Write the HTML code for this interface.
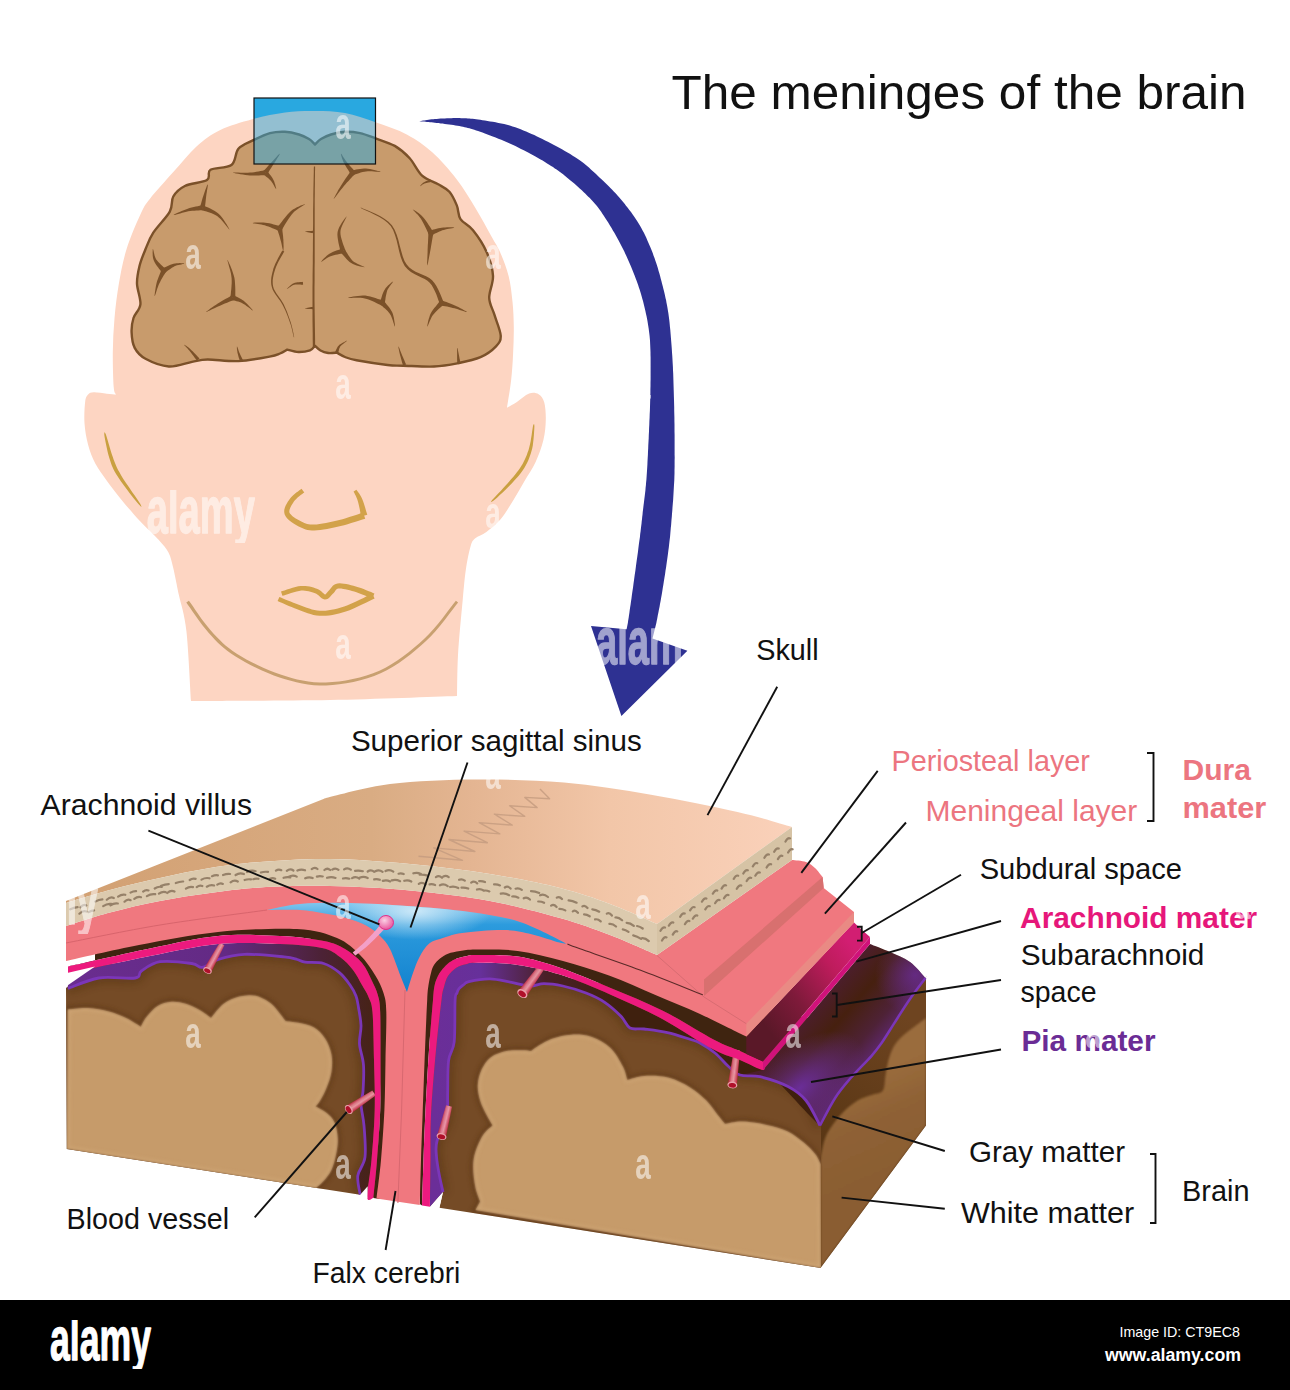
<!DOCTYPE html>
<html><head><meta charset="utf-8"><title>The meninges of the brain</title>
<style>
html,body{margin:0;padding:0;background:#fff;}
body{width:1290px;height:1390px;overflow:hidden;}
svg{display:block;}
text{font-family:"Liberation Sans",sans-serif;}
</style></head>
<body>
<svg width="1290" height="1390" viewBox="0 0 1290 1390">
<defs>
<linearGradient id="gSkullTop" x1="66" y1="0" x2="792" y2="0" gradientUnits="userSpaceOnUse">
 <stop offset="0" stop-color="#D2A072"/><stop offset="0.42" stop-color="#D9AC83"/><stop offset="0.56" stop-color="#E4B592"/><stop offset="0.75" stop-color="#F2C6A8"/><stop offset="1" stop-color="#FAD1BA"/></linearGradient>
<linearGradient id="gLSub" x1="66" y1="0" x2="385" y2="0" gradientUnits="userSpaceOnUse">
 <stop offset="0" stop-color="#6A2D90"/><stop offset="0.5" stop-color="#632A84"/><stop offset="0.8" stop-color="#4C2236"/><stop offset="1" stop-color="#45230F"/></linearGradient>
<linearGradient id="gRSub" x1="434" y1="0" x2="620" y2="0" gradientUnits="userSpaceOnUse">
 <stop offset="0" stop-color="#6B2E98"/><stop offset="0.25" stop-color="#66309A"/><stop offset="0.6" stop-color="#4A2027"/><stop offset="1" stop-color="#3F200E"/></linearGradient>
<linearGradient id="gPiaEnd" x1="816" y1="1005" x2="886" y2="1066" gradientUnits="userSpaceOnUse">
 <stop offset="0" stop-color="#4C1E2C"/><stop offset="0.3" stop-color="#46200F"/><stop offset="0.62" stop-color="#4E2236"/><stop offset="1" stop-color="#6A2C95"/></linearGradient>
<radialGradient id="gPiaGlow" cx="800" cy="1088" r="50" gradientUnits="userSpaceOnUse" gradientTransform="translate(800 1088) rotate(-40) scale(1.5 0.8) translate(-800 -1088)">
 <stop offset="0" stop-color="#6C2E9E" stop-opacity="0.95"/><stop offset="1" stop-color="#6C2E9E" stop-opacity="0"/></radialGradient>
<radialGradient id="gPiaGlow2" cx="915" cy="975" r="40" gradientUnits="userSpaceOnUse">
 <stop offset="0" stop-color="#6A2C95" stop-opacity="0.8"/><stop offset="1" stop-color="#6A2C95" stop-opacity="0"/></radialGradient>
<linearGradient id="gArTop" x1="768" y1="1030" x2="862" y2="958" gradientUnits="userSpaceOnUse">
 <stop offset="0" stop-color="#5A1828"/><stop offset="0.35" stop-color="#7E1A3A"/><stop offset="0.75" stop-color="#BE1C5C"/><stop offset="1" stop-color="#D21E72"/></linearGradient>
<linearGradient id="gSide" x1="830" y1="1140" x2="910" y2="1020" gradientUnits="userSpaceOnUse">
 <stop offset="0" stop-color="#5A3715"/><stop offset="1" stop-color="#6E4420"/></linearGradient>
<linearGradient id="gSideWM" x1="860" y1="1080" x2="900" y2="1170" gradientUnits="userSpaceOnUse">
 <stop offset="0" stop-color="#9A6C3C"/><stop offset="0.4" stop-color="#8F6236"/><stop offset="1" stop-color="#8A5D31"/></linearGradient>
<linearGradient id="gSinus" x1="0" y1="903" x2="0" y2="990" gradientUnits="userSpaceOnUse">
 <stop offset="0" stop-color="#7FC6EE"/><stop offset="0.25" stop-color="#2C9BDD"/><stop offset="1" stop-color="#1483CF"/></linearGradient>
<radialGradient id="gSinusHi" cx="415" cy="911" r="48" gradientUnits="userSpaceOnUse" gradientTransform="translate(415 911) scale(1.6 0.6) translate(-415 -911)">
 <stop offset="0" stop-color="#D8EEFA" stop-opacity="0.9"/><stop offset="1" stop-color="#D8EEFA" stop-opacity="0"/></radialGradient>
<linearGradient id="gVes" x1="0" y1="0" x2="0" y2="1">
 <stop offset="0" stop-color="#C0203C"/><stop offset="0.45" stop-color="#EE9AA6"/><stop offset="0.7" stop-color="#E07888"/><stop offset="1" stop-color="#B8203A"/></linearGradient>
<radialGradient id="gVillus" cx="0.4" cy="0.35" r="0.7">
 <stop offset="0" stop-color="#FBD0E4"/><stop offset="1" stop-color="#E8509A"/></radialGradient>
<filter id="fBlur1" x="-10%" y="-10%" width="120%" height="120%"><feGaussianBlur stdDeviation="1.2"/></filter>
<filter id="fBlur2" x="-10%" y="-10%" width="120%" height="120%"><feGaussianBlur stdDeviation="2"/></filter>
<filter id="fBlur4" x="-10%" y="-10%" width="120%" height="120%"><feGaussianBlur stdDeviation="4"/></filter>
<clipPath id="cpLogo"><rect x="-3" y="-40" width="108" height="49"/></clipPath></defs>
<rect width="1290" height="1390" fill="#fff"/>
<g><path d="M191,701 C190.2,689.3 188.4,648.6 186.4,631 C184.4,613.4 180.8,604.1 179,595.6 C177.2,587.1 176.8,584.8 175.8,580 C174.8,575.2 174.2,571.5 173,567 C171.8,562.5 171,557.2 168.6,552.7 C166.2,548.2 163.4,545 158.6,539.7 C153.8,534.4 146.1,527.7 139.9,521 C133.7,514.3 126.7,506.1 121.2,499.4 C115.7,492.7 111.1,486.7 106.8,480.7 C102.5,474.7 98.4,469.5 95.3,463.5 C92.2,457.5 89.9,451.4 88.1,444.7 C86.3,438 85,430.4 84.5,423.2 C84,416 84.6,406.4 85.2,401.6 C85.8,396.8 86.7,396 88.1,394.4 C89.5,392.8 90.7,392.3 93.8,392.2 C96.9,392.1 103.1,393.3 106.8,393.7 C110.5,394.1 114.5,394.5 116.1,394.6 C115.7,393.3 114.2,394 113.7,387 C113.2,380 112.7,364.2 112.8,352.7 C112.9,341.2 113.5,329.7 114.5,318.2 C115.5,306.7 116.9,295.1 118.9,283.6 C120.9,272.1 123,260.5 126.6,249 C130.2,237.5 136.5,222.9 140.4,214.5 C144.3,206.1 144.5,205.9 150,198.8 C155.5,191.7 165.6,180.8 173.3,172.1 C181.1,163.4 188.8,153.5 196.5,146.5 C204.2,139.5 210.5,134.8 219.8,130.2 C229.1,125.6 241.4,122.2 252.3,119.2 C263.2,116.2 274.6,113.9 285,112.5 C295.4,111.1 305,110.9 315,111 C325,111.1 334.9,111.1 345,113 C355.1,114.9 365.2,118.7 375.6,122.3 C386,125.9 397.8,129.7 407.2,134.7 C416.6,139.7 423.7,144.6 432,152.1 C440.3,159.6 449.6,170.1 456.8,179.4 C464,188.7 469.6,198.4 475.4,207.9 C481.2,217.4 487.4,229.1 491.5,236.4 C495.6,243.8 497.1,245.4 500,252 C502.9,258.6 506.5,267.6 508.6,275.9 C510.7,284.2 511.6,293.2 512.5,301.8 C513.4,310.4 513.7,319.1 513.8,327.7 C513.9,336.3 513.5,345 513.1,353.6 C512.7,362.2 512.2,370.4 511.2,379.4 C510.2,388.4 507.7,403 507,407.7 C508.6,406.8 512.8,404.6 516.5,402.2 C520.2,399.8 525.4,394.8 529.1,393.5 C532.8,392.2 536.1,392.8 538.6,394.2 C541.1,395.6 543,398 544.2,402.2 C545.4,406.4 545.9,413.3 545.8,419.6 C545.7,425.9 545.1,433 543.4,440.1 C541.7,447.2 538.7,455.4 535.5,462.3 C532.3,469.2 528.1,475 524.4,481.3 C520.7,487.6 517.3,494 513.3,500.3 C509.3,506.6 505.1,514 500.6,519.3 C496.1,524.6 490.6,528.8 486.4,532 C482.2,535.2 477.9,535.9 475.3,538.3 C472.7,540.7 472.2,540.9 470.6,546.2 C469,551.5 467.1,561 465.8,570 C464.5,579 464,585.8 462.7,600 C461.4,614.2 458.9,639 458,655 C457.1,671 457.2,689.2 457,696 C435.8,696.7 374.3,699.2 330,700 C285.7,700.8 214.2,700.8 191,701 Z" fill="#FDD5C2"/>
<path d="M104.3,432.6 L104.3,434.7 L104.7,437.4 L105.3,440.7 L106,444.3 L106.8,448 L107.6,451.7 L108.5,455.2 L109.4,458.3 L110.3,460.9 L111,463.2 L111.8,465.4 L112.7,467.5 L113.7,469.7 L114.9,472 L116.4,474.5 L118.2,477.3 L120.5,480.8 L123.4,484.8 L126.6,489.1 L129.9,493.5 L133.2,497.7 L136.3,501.5 L138.9,504.6 L141.1,506.8 L141.5,506.4 L140.2,503.7 L137.9,500.3 L135.2,496.3 L132.1,491.9 L129,487.3 L126,482.9 L123.3,478.9 L121.2,475.5 L119.6,472.6 L118.2,470.2 L117.1,468 L116.2,466 L115.4,464 L114.6,461.9 L113.7,459.7 L112.8,457.1 L111.8,454.2 L110.7,450.8 L109.7,447.3 L108.6,443.6 L107.6,440.1 L106.7,436.9 L105.8,434.3 L104.9,432.4Z" fill="#C9A040"/><path d="M533.6,424.3 L533,426.1 L532.6,428.6 L532.1,431.6 L531.7,434.8 L531.1,438.3 L530.6,441.6 L529.9,444.8 L529.2,447.6 L528.5,450.2 L527.6,452.6 L526.8,454.9 L525.8,457.2 L524.8,459.5 L523.7,461.7 L522.6,463.9 L521.3,466.1 L519.9,468.3 L518.3,470.4 L516.7,472.6 L515,474.7 L513.2,476.9 L511.3,479.1 L509.4,481.3 L507.5,483.5 L505.4,485.8 L503.1,488.3 L500.7,490.9 L498.2,493.5 L495.9,495.9 L493.8,498.2 L492.1,500.1 L491,501.7 L491.4,502.1 L493,501 L495,499.4 L497.3,497.4 L499.8,495.1 L502.4,492.7 L505,490.2 L507.5,487.8 L509.7,485.5 L511.7,483.4 L513.7,481.3 L515.7,479.1 L517.6,477 L519.5,474.8 L521.2,472.5 L522.8,470.3 L524.3,467.9 L525.7,465.6 L526.9,463.3 L528,460.9 L529,458.5 L529.9,456.1 L530.8,453.6 L531.5,451.1 L532.2,448.4 L532.8,445.4 L533.2,442.1 L533.6,438.6 L533.9,435.1 L534.1,431.8 L534.3,428.8 L534.4,426.2 L534.2,424.3Z" fill="#C9A040"/><path d="M186.3,602.5 L188,604.9 L190.2,608.1 L192.9,612 L195.9,616.3 L199.1,620.7 L202.4,625.2 L205.7,629.3 L208.8,633 L211.8,636.3 L214.7,639.4 L217.6,642.4 L220.6,645.2 L223.8,648 L227.2,650.8 L231,653.5 L235.2,656.3 L239.8,659.1 L244.9,662 L250.4,665 L256.1,667.8 L261.9,670.6 L267.9,673.1 L273.8,675.4 L279.5,677.4 L285.2,679.2 L290.8,680.8 L296.4,682.3 L302.1,683.5 L307.9,684.5 L313.8,685.2 L319.8,685.5 L326.1,685.5 L332.6,685.1 L339.3,684.3 L346.3,683.3 L353.4,681.9 L360.4,680.3 L367.4,678.3 L374.1,676 L380.6,673.3 L386.8,670.3 L392.9,666.8 L398.9,662.9 L404.7,658.8 L410.4,654.5 L415.8,650 L421,645.5 L426,641 L430.9,636.2 L435.7,630.9 L440.5,625.3 L444.9,619.7 L449,614.3 L452.7,609.5 L455.7,605.5 L458.1,602.5 L455.9,600.7 L453.5,603.7 L450.4,607.8 L446.8,612.6 L442.7,617.9 L438.3,623.5 L433.6,629 L428.8,634.3 L424,639 L419.1,643.4 L414,647.8 L408.6,652.2 L403,656.5 L397.3,660.5 L391.4,664.3 L385.5,667.7 L379.4,670.7 L373.1,673.2 L366.5,675.5 L359.7,677.4 L352.8,679.1 L345.8,680.4 L339,681.4 L332.3,682.1 L325.9,682.5 L319.9,682.6 L314,682.2 L308.3,681.6 L302.7,680.6 L297.1,679.4 L291.6,677.9 L286,676.3 L280.5,674.6 L274.8,672.6 L269,670.3 L263.2,667.8 L257.4,665.1 L251.8,662.2 L246.4,659.4 L241.4,656.5 L236.8,653.7 L232.7,651 L229.1,648.3 L225.8,645.7 L222.7,642.9 L219.8,640.1 L217,637.2 L214.1,634.2 L211.2,631 L208.1,627.3 L204.9,623.2 L201.6,618.9 L198.5,614.4 L195.5,610.2 L192.9,606.3 L190.6,603.1 L188.9,600.7Z" fill="#C8A070"/><path d="M301.5,488.8 L300.6,489.5 L299.4,490.3 L298,491.4 L296.3,492.6 L294.6,494 L292.9,495.4 L291.4,497 L290.1,498.6 L288.9,500.2 L287.8,501.8 L286.7,503.7 L285.7,505.6 L284.9,507.6 L284.3,509.7 L284.2,512 L284.6,514.2 L285.6,516.3 L287,518.2 L288.8,519.9 L290.7,521.5 L292.8,522.9 L294.8,524.2 L296.9,525.4 L298.7,526.4 L300.4,527.3 L302.1,528.1 L303.8,528.8 L305.6,529.4 L307.5,529.9 L309.6,530.2 L311.9,530.4 L314.4,530.4 L317.2,530.3 L320.3,529.9 L323.6,529.5 L327.1,528.9 L330.6,528.2 L334.1,527.5 L337.5,526.7 L340.7,526 L344.1,525.2 L347.6,524.2 L351.2,523.1 L354.7,522 L358,521 L360.9,520 L363.3,519.3 L365.2,518.7 L363.2,512.5 L361.3,513.1 L358.9,513.9 L356,514.9 L352.7,516 L349.3,517.1 L345.8,518.2 L342.5,519.2 L339.3,520 L336.1,520.8 L332.8,521.5 L329.4,522.3 L326,523 L322.7,523.6 L319.6,524.1 L316.7,524.4 L314.2,524.6 L312.1,524.6 L310.2,524.5 L308.6,524.3 L307.1,524 L305.7,523.5 L304.3,523 L302.9,522.3 L301.3,521.6 L299.5,520.6 L297.6,519.6 L295.7,518.4 L293.9,517.2 L292.2,515.9 L290.9,514.6 L289.9,513.5 L289.4,512.6 L289.3,511.7 L289.4,510.6 L289.7,509.2 L290.3,507.7 L291.1,506 L292,504.4 L293,502.9 L293.9,501.4 L294.9,500.2 L296.2,498.9 L297.6,497.6 L299.2,496.3 L300.7,495.1 L302.2,494 L303.4,493.1 L304.3,492.4Z" fill="#D2A24A"/><path d="M353.6,491.4 L353.9,492.2 L354.4,493.1 L354.9,494.2 L355.5,495.3 L356.1,496.6 L356.7,498 L357.3,499.4 L357.7,500.8 L358.2,502.5 L358.7,504.5 L359.2,506.8 L359.7,509.1 L360.1,511.3 L360.5,513.4 L360.8,515.1 L361.1,516.4 L367.3,514.8 L366.9,513.6 L366.4,511.9 L365.8,509.9 L365.2,507.7 L364.5,505.4 L363.7,503.1 L363,501 L362.3,499.2 L361.5,497.5 L360.7,496 L359.8,494.6 L359,493.3 L358.2,492.2 L357.5,491.2 L356.9,490.4 L356.4,489.8Z" fill="#D2A24A"/><path d="M282.4,595.8 L283.9,595.4 L286,594.7 L288.4,593.9 L291.1,593 L293.9,592.2 L296.6,591.4 L299.1,590.9 L301.2,590.6 L303.1,590.6 L305,590.7 L306.8,590.9 L308.6,591.2 L310.4,591.7 L312.1,592.2 L313.7,592.7 L315.1,593.2 L316.3,593.8 L317.3,594.5 L318.4,595.3 L319.5,596.3 L320.5,597.3 L321.7,598.2 L323.1,599 L324.8,599.5 L326.5,599.3 L328,598.7 L329.1,597.8 L330,596.9 L330.7,596 L331.4,595.2 L332.1,594.5 L332.8,593.8 L333.7,592.9 L334.5,591.9 L335.2,590.9 L335.8,590.1 L336.4,589.5 L336.9,589.1 L337.5,588.8 L338.4,588.6 L339.6,588.5 L341.3,588.6 L343.2,588.9 L345.3,589.3 L347.5,589.8 L349.8,590.3 L352,590.9 L354.2,591.6 L356.5,592.3 L359,593.2 L361.6,594.2 L364.3,595.2 L366.8,596.2 L369,597.2 L370.9,598 L372.4,598.6 L374.4,593.4 L373,592.9 L371.1,592.1 L368.8,591.2 L366.3,590.2 L363.6,589.1 L360.9,588.1 L358.2,587.2 L355.8,586.4 L353.4,585.8 L351.1,585.2 L348.7,584.6 L346.3,584.1 L344,583.7 L341.8,583.4 L339.7,583.3 L337.6,583.4 L335.8,583.9 L334.1,584.7 L332.8,585.8 L331.8,586.9 L331,587.9 L330.4,588.8 L329.8,589.6 L329.2,590.2 L328.4,591 L327.6,592 L326.9,592.8 L326.3,593.6 L325.8,594.1 L325.4,594.4 L325.2,594.5 L325.2,594.5 L325,594.5 L324.5,594.2 L323.7,593.5 L322.7,592.7 L321.5,591.6 L320.2,590.6 L318.6,589.6 L316.9,588.8 L315.2,588.2 L313.5,587.6 L311.6,587.1 L309.6,586.6 L307.6,586.3 L305.4,586 L303.1,585.9 L300.8,586 L298.2,586.3 L295.5,587 L292.6,587.8 L289.7,588.7 L287,589.6 L284.5,590.4 L282.5,591.1 L281,591.6Z" fill="#D2A24A"/><path d="M277.6,601.1 L279.1,601.7 L281,602.6 L283.4,603.6 L286,604.7 L288.8,605.9 L291.6,607.1 L294.5,608.2 L297.2,609.2 L299.7,610.2 L302.3,611.2 L305,612.2 L307.7,613.2 L310.5,614.1 L313.4,614.9 L316.5,615.5 L319.6,615.8 L322.7,615.8 L325.9,615.7 L329.1,615.4 L332.4,614.9 L335.7,614.2 L339,613.4 L342.4,612.5 L345.8,611.5 L349.6,610.2 L353.6,608.5 L357.8,606.6 L362,604.6 L365.9,602.7 L369.4,601 L372.4,599.5 L374.6,598.5 L372.2,593.5 L370,594.6 L367,596.1 L363.5,597.9 L359.6,599.8 L355.5,601.8 L351.5,603.6 L347.6,605.2 L344.2,606.5 L340.9,607.5 L337.7,608.4 L334.6,609.2 L331.5,609.8 L328.5,610.3 L325.5,610.7 L322.6,610.8 L319.8,610.8 L317.1,610.6 L314.5,610.1 L311.9,609.4 L309.3,608.6 L306.7,607.7 L304,606.7 L301.4,605.7 L298.8,604.8 L296.2,603.8 L293.4,602.8 L290.6,601.6 L287.8,600.5 L285.2,599.4 L282.9,598.4 L280.9,597.5 L279.4,596.9Z" fill="#D2A24A"/>
<path d="M315,345.8 C314.2,346.6 312.8,349.3 310,350.3 C307.2,351.3 302.2,352.1 298.4,352 C294.6,351.9 289.1,350 287.3,349.6 C286.1,350.2 283,352.3 280,353.5 C277,354.7 276.4,355.3 269.5,356.6 C262.6,357.9 248.8,360.6 238.5,361.1 C228.2,361.6 215.2,359.4 207.5,359.5 C199.8,359.6 198.4,360.7 192,361.9 C185.6,363.1 176.6,367 168.8,366.5 C161.1,366 151.2,361.9 145.5,358.8 C139.8,355.7 137,352.3 134.7,347.9 C132.4,343.5 131.8,337.4 131.6,332.4 C131.4,327.4 132,322.7 133.5,318 C135,313.3 139.8,310.1 140.4,304.4 C141,298.7 137.2,290 137,283.6 C136.8,277.2 138.1,271.8 139.5,266 C140.9,260.2 143.3,254.6 145.6,249 C147.9,243.4 149.3,238.9 153.3,232.7 C157.3,226.5 166.5,217.6 169.8,211.6 C173.1,205.6 170.8,200.8 173.3,196.5 C175.8,192.2 179.3,188.8 184.9,186 C190.5,183.2 202.7,182.7 207,180 C211.3,177.3 206.4,172.3 210.5,169.8 C214.6,167.3 226.8,168.5 231.4,165 C236.1,161.5 234.9,152.9 238.4,148.8 C241.9,144.8 247,143.3 252.3,140.7 C257.6,138.1 264.6,134.7 270,133.2 C275.4,131.7 280.2,131.6 285,131.8 C289.8,132 295,133.3 299,134.5 C303,135.7 306.3,137.3 309,139 C311.7,140.7 314,143.6 315,144.5 C316,143.6 318.3,140.7 321,139 C323.7,137.3 327,135.7 331,134.5 C335,133.3 340.2,132 345,131.8 C349.8,131.6 354.9,132.1 360,133.2 C365.1,134.3 369.8,136.3 375.6,138.4 C381.4,140.5 389.1,142.6 394.8,145.9 C400.5,149.2 405.1,153.3 409.7,158.3 C414.2,163.3 417.4,171.4 422.1,175.7 C426.9,180 433.6,181.6 438.2,184.3 C442.8,187 446.3,188.3 449.4,191.8 C452.5,195.3 454.9,200.9 456.8,205.4 C458.7,209.9 457.8,215 460.5,219.1 C463.2,223.2 468.6,224.7 473,230.2 C477.4,235.7 483.3,244.4 486.6,252 C489.9,259.6 492.6,268.2 493,275.9 C493.4,283.5 489,291.4 489.2,297.9 C489.4,304.4 492.5,308.4 494.4,314.7 C496.3,321 500.4,330.2 500.7,335.5 C501,340.8 499.4,342.8 496,346.4 C492.6,350 486.9,354.4 480.5,357.2 C474.1,360 465.1,361.8 457.3,363.4 C449.6,364.9 443.1,366.1 434,366.5 C424.9,366.9 410.8,365.9 403,365.7 C395.2,365.4 395.2,365.9 387.5,365 C379.8,364.1 363.6,361.6 356.5,360.3 C349.4,359 348.3,358.3 345,357 C341.7,355.7 338.1,353.3 336.7,352.6 C335.3,352.7 330.9,353.4 328.2,353 C325.5,352.6 322.7,351.7 320.5,350.5 C318.3,349.3 315.9,346.6 315,345.8 Z" fill="#C89B6C" stroke="#7B5129" stroke-width="2.4" stroke-linejoin="round"/>
<g fill="#7B5129"><path d="M267.4,174.3 L268.3,172.5 L269.8,170.1 L271.6,167.2 L273.6,164.1 L275.6,161 L277.4,158.1 L278.9,155.7 L279.8,153.9 L279.6,153.7 L278.1,155.1 L276.2,157.2 L273.9,159.7 L271.4,162.4 L268.9,165.1 L266.6,167.7 L264.7,169.7 L263.2,171.1Z"/><path d="M265,170.1 L263.9,170.4 L262.3,170.7 L260.5,171.1 L258.5,171.5 L256.4,171.8 L254.2,172.2 L252,172.4 L250,172.6 L247.9,172.7 L245.5,172.8 L243,172.7 L240.6,172.7 L238.2,172.6 L236.1,172.5 L234.3,172.5 L232.9,172.6 L232.9,172.8 L234.2,173.1 L236,173.4 L238.1,173.8 L240.4,174.2 L242.9,174.6 L245.4,174.9 L247.8,175.2 L250,175.4 L252.2,175.5 L254.4,175.5 L256.7,175.5 L258.9,175.4 L261,175.3 L262.9,175.3 L264.4,175.3 L265.6,175.3Z"/><path d="M263.4,174.5 L264.1,175 L265,175.6 L265.9,176.4 L267,177.2 L268,178.1 L269.1,179 L270,179.9 L270.9,180.8 L271.6,181.7 L272.3,182.8 L273.1,184 L273.8,185.2 L274.4,186.4 L275,187.4 L275.5,188.3 L276,189 L276.2,188.8 L276.1,188.1 L275.8,187.1 L275.5,185.9 L275.2,184.6 L274.7,183.2 L274.3,181.8 L273.7,180.5 L273.1,179.2 L272.4,178 L271.6,176.8 L270.7,175.6 L269.8,174.4 L268.9,173.3 L268.2,172.3 L267.6,171.5 L267.2,170.9Z"/><path d="M204.9,208.2 L205,207.2 L205.1,205.8 L205.3,204.2 L205.5,202.4 L205.7,200.5 L205.9,198.7 L206.1,196.9 L206.3,195.3 L206.5,193.8 L206.8,192.2 L207,190.6 L207.3,189.1 L207.5,187.7 L207.7,186.4 L207.8,185.3 L207.8,184.4 L207.6,184.4 L207.2,185.1 L206.8,186.1 L206.3,187.4 L205.8,188.7 L205.2,190.2 L204.7,191.7 L204.2,193.2 L203.7,194.7 L203.2,196.3 L202.6,198 L202.1,199.8 L201.6,201.6 L201.1,203.4 L200.6,204.9 L200.2,206.2 L199.9,207.2Z"/><path d="M202,205.1 L201,205.4 L199.5,205.8 L197.8,206.2 L195.8,206.6 L193.8,207 L191.6,207.5 L189.6,208.1 L187.7,208.7 L185.8,209.4 L183.7,210.2 L181.7,211 L179.6,211.9 L177.7,212.8 L176,213.6 L174.6,214.3 L173.5,214.9 L173.7,215.1 L174.8,214.9 L176.3,214.5 L178.2,213.9 L180.2,213.4 L182.3,212.8 L184.4,212.2 L186.5,211.7 L188.3,211.3 L190.2,211.1 L192.2,210.8 L194.3,210.7 L196.4,210.5 L198.3,210.4 L200.1,210.3 L201.6,210.3 L202.8,210.3Z"/><path d="M201.4,210.1 L202.7,210.5 L204.5,211 L206.5,211.6 L208.7,212.3 L211,213.1 L213.3,214 L215.3,215 L217.1,216.1 L218.8,217.4 L220.6,219.1 L222.3,221 L224,223.1 L225.6,225 L227,226.8 L228.2,228.3 L229.2,229.4 L229.4,229.2 L228.7,228 L227.7,226.3 L226.6,224.3 L225.2,222.2 L223.8,219.9 L222.2,217.7 L220.6,215.7 L218.9,213.9 L217,212.4 L214.8,211 L212.5,209.8 L210.2,208.6 L208.1,207.6 L206.1,206.7 L204.5,205.9 L203.4,205.3Z"/><path d="M281.8,229.9 L282.7,228.5 L283.8,226.5 L285.1,224.3 L286.7,221.8 L288.3,219.3 L289.9,216.9 L291.5,214.8 L293,213 L294.4,211.5 L296.1,210.2 L297.8,208.9 L299.6,207.7 L301.3,206.7 L302.8,205.8 L304,205 L305,204.3 L304.8,204.1 L303.8,204.5 L302.4,205 L300.7,205.6 L298.9,206.4 L296.9,207.3 L294.9,208.4 L292.9,209.6 L291,211 L289.2,212.7 L287.3,214.8 L285.3,217.2 L283.4,219.5 L281.6,221.9 L280,224 L278.6,225.7 L277.6,226.9Z"/><path d="M280.5,225.9 L279.3,225.7 L277.7,225.4 L275.8,224.9 L273.7,224.4 L271.5,223.8 L269.3,223.3 L267.2,222.9 L265.3,222.7 L263.4,222.5 L261.6,222.4 L259.7,222.4 L258,222.5 L256.3,222.5 L254.9,222.6 L253.6,222.8 L252.7,222.9 L252.7,223.1 L253.6,223.4 L254.8,223.6 L256.3,223.8 L257.9,224 L259.6,224.2 L261.4,224.6 L263.1,224.9 L264.7,225.3 L266.5,225.9 L268.4,226.6 L270.4,227.3 L272.5,228.2 L274.5,229 L276.3,229.7 L277.8,230.4 L278.9,230.9Z"/><path d="M277.2,228.9 L277.5,229.8 L277.9,231 L278.3,232.4 L278.8,233.9 L279.3,235.6 L279.8,237.2 L280.2,238.8 L280.6,240.2 L281,241.6 L281.4,243.2 L281.7,244.7 L282,246.3 L282.3,247.7 L282.6,249 L282.9,250.1 L283.2,250.9 L283.4,250.9 L283.5,250 L283.5,248.9 L283.6,247.6 L283.6,246.1 L283.5,244.5 L283.5,242.9 L283.4,241.3 L283.4,239.8 L283.2,238.2 L283.1,236.6 L282.9,234.8 L282.7,233.1 L282.5,231.5 L282.4,230 L282.3,228.8 L282.2,227.9Z"/><path d="M282.3,250.4 L281.6,251.8 L280.6,253.6 L279.4,255.8 L278,258.3 L276.7,260.9 L275.4,263.6 L274.3,266.2 L273.4,268.6 L272.8,270.9 L272.2,273.2 L271.7,275.5 L271.3,277.8 L271.1,280.1 L271.1,282.4 L271.3,284.8 L271.8,287.1 L272.6,289.4 L273.8,291.7 L275.2,294 L276.8,296.3 L278.4,298.5 L280.1,300.7 L281.5,303 L282.8,305.2 L283.9,307.4 L285,309.7 L286,312 L286.9,314.3 L287.8,316.6 L288.6,318.8 L289.4,321 L290.1,323 L290.8,325.1 L291.4,327.2 L291.9,329.3 L292.4,331.3 L292.8,333.2 L293.2,334.8 L293.5,336.3 L293.8,337.3 L294.2,337.3 L294,336.2 L293.7,334.7 L293.4,333.1 L293,331.2 L292.5,329.1 L292,327 L291.5,324.9 L290.9,322.8 L290.2,320.7 L289.4,318.5 L288.6,316.3 L287.8,314 L286.9,311.6 L285.9,309.3 L284.9,306.9 L283.8,304.6 L282.5,302.3 L281.1,300.1 L279.5,297.8 L277.9,295.5 L276.3,293.3 L275,291.1 L273.9,288.9 L273.2,286.7 L272.8,284.5 L272.7,282.4 L272.7,280.2 L273,278 L273.4,275.8 L273.9,273.6 L274.5,271.4 L275.2,269.2 L276,266.9 L277.1,264.4 L278.4,261.8 L279.8,259.3 L281.2,256.8 L282.4,254.7 L283.5,252.8 L284.3,251.4Z"/><path d="M165,272.9 L165.8,272.3 L166.8,271.5 L167.9,270.6 L169.2,269.7 L170.6,268.7 L171.9,267.8 L173.3,266.9 L174.5,266.3 L175.7,265.8 L177,265.3 L178.5,265 L179.9,264.7 L181.3,264.4 L182.6,264.1 L183.6,263.9 L184.4,263.6 L184.4,263.4 L183.6,263.3 L182.5,263.2 L181.2,263.2 L179.8,263.1 L178.2,263.2 L176.6,263.2 L175.1,263.4 L173.5,263.7 L172,264.2 L170.4,264.8 L168.8,265.5 L167.2,266.2 L165.7,267 L164.3,267.6 L163.2,268.1 L162.4,268.5Z"/><path d="M161.4,269.6 L161,270.6 L160.6,271.9 L160,273.4 L159.3,275.2 L158.6,277 L157.9,278.9 L157.2,280.8 L156.7,282.5 L156.3,284.3 L155.9,286.2 L155.6,288.1 L155.3,290 L155,291.8 L154.8,293.5 L154.6,294.8 L154.6,295.9 L154.8,295.9 L155.2,295 L155.7,293.7 L156.2,292.1 L156.7,290.4 L157.3,288.6 L158,286.8 L158.6,285 L159.3,283.5 L160.1,281.9 L160.9,280.3 L161.9,278.6 L162.8,276.9 L163.8,275.3 L164.7,273.9 L165.4,272.7 L166,271.8Z"/><path d="M165.7,269 L164.8,268.2 L163.7,267.2 L162.4,266 L161,264.7 L159.6,263.3 L158.3,261.9 L157.1,260.6 L156.2,259.4 L155.6,258.2 L155,256.8 L154.5,255.3 L154.2,253.8 L153.8,252.3 L153.6,251 L153.3,249.9 L153,249.1 L152.8,249.1 L152.7,250 L152.7,251.1 L152.6,252.5 L152.7,254 L152.7,255.6 L152.9,257.3 L153.3,259 L153.8,260.6 L154.6,262.3 L155.6,264 L156.8,265.7 L158,267.3 L159.2,268.9 L160.3,270.3 L161.2,271.5 L161.7,272.4Z"/><path d="M235.5,297.8 L235.4,296.3 L235.3,294.2 L235.3,291.8 L235.3,289 L235.2,286.2 L235,283.2 L234.8,280.4 L234.4,277.8 L233.7,275.3 L232.9,272.7 L232,270 L231,267.5 L230,265.1 L229,263 L228.2,261.2 L227.6,259.9 L227.4,259.9 L227.7,261.4 L228.2,263.3 L228.8,265.5 L229.5,268 L230.2,270.6 L230.9,273.2 L231.3,275.8 L231.6,278.2 L231.7,280.6 L231.7,283.3 L231.5,286.1 L231.3,288.9 L231,291.6 L230.8,294 L230.5,296.1 L230.3,297.6Z"/><path d="M231.8,295.4 L230.7,296.1 L229.2,296.9 L227.4,298 L225.3,299.1 L223.2,300.3 L221.1,301.5 L219.1,302.7 L217.4,303.8 L215.7,304.9 L214,306 L212.3,307.2 L210.7,308.3 L209.2,309.4 L207.9,310.4 L206.8,311.2 L205.9,311.9 L206.1,312.1 L207.1,311.7 L208.3,311.1 L209.8,310.4 L211.5,309.6 L213.2,308.7 L215,307.9 L216.9,307 L218.6,306.2 L220.5,305.4 L222.6,304.5 L224.8,303.6 L227.1,302.7 L229.2,301.8 L231.1,301.1 L232.8,300.5 L234,300Z"/><path d="M232,300.1 L232.8,300.3 L234,300.5 L235.2,300.8 L236.6,301.2 L238.1,301.6 L239.6,302.1 L241,302.6 L242.3,303.2 L243.6,303.9 L245,304.8 L246.5,305.9 L248,307 L249.4,308.1 L250.7,309 L251.7,309.9 L252.6,310.4 L252.8,310.2 L252.2,309.4 L251.3,308.4 L250.2,307.2 L249,305.9 L247.7,304.5 L246.4,303.2 L245,301.9 L243.7,300.8 L242.4,299.9 L241,299 L239.5,298.2 L238.1,297.5 L236.7,296.8 L235.5,296.2 L234.5,295.7 L233.8,295.3Z"/><path d="M199.5,358.4 L198.8,357.7 L197.8,356.7 L196.7,355.5 L195.5,354.2 L194.2,352.9 L192.9,351.6 L191.7,350.4 L190.7,349.4 L189.7,348.5 L188.8,347.7 L187.9,347 L187,346.4 L186.2,345.8 L185.5,345.4 L184.9,345 L184.4,344.7 L184.2,344.9 L184.6,345.4 L185,345.9 L185.6,346.5 L186.3,347.2 L187,348 L187.8,348.8 L188.5,349.7 L189.3,350.6 L190.2,351.7 L191.2,353 L192.3,354.5 L193.5,355.9 L194.5,357.4 L195.5,358.7 L196.3,359.8 L196.9,360.6Z"/><path d="M243.2,360.4 L242.8,359.8 L242.4,359 L241.9,358 L241.4,356.9 L240.8,355.8 L240.3,354.7 L239.8,353.6 L239.4,352.7 L239,351.8 L238.7,350.9 L238.4,350 L238.1,349.1 L237.8,348.2 L237.6,347.5 L237.3,346.9 L237.1,346.4 L236.9,346.4 L236.9,346.9 L236.9,347.6 L236.9,348.4 L237,349.3 L237.1,350.3 L237.3,351.3 L237.4,352.3 L237.6,353.3 L237.9,354.3 L238.2,355.5 L238.5,356.7 L238.9,357.9 L239.3,359.1 L239.6,360.1 L239.9,361 L240,361.6Z"/><path d="M313.1,230.8 L312.4,230.8 L311.4,230.9 L310.3,231 L309,231.1 L307.8,231.1 L306.7,231.2 L305.7,231.3 L305,231.4 L305,231.6 L305.7,231.8 L306.6,232 L307.7,232.2 L309,232.4 L310.2,232.7 L311.3,232.9 L312.3,233.1 L312.9,233.2Z"/><path d="M302.9,281.8 L302.3,281.9 L301.3,282 L300.2,282.1 L298.9,282.2 L297.6,282.3 L296.2,282.5 L294.9,282.8 L293.7,283.2 L292.6,283.8 L291.6,284.5 L290.6,285.3 L289.6,286.2 L288.7,287 L287.9,287.8 L287.3,288.4 L286.8,288.9 L287,289.1 L287.6,288.8 L288.3,288.2 L289.2,287.6 L290.2,286.9 L291.2,286.2 L292.3,285.6 L293.3,285.1 L294.3,284.8 L295.3,284.6 L296.4,284.5 L297.7,284.5 L299,284.5 L300.2,284.6 L301.3,284.7 L302.3,284.7 L303.1,284.8Z"/><path d="M312.9,306.8 L312.3,306.9 L311.3,307.1 L310.1,307.3 L308.9,307.6 L307.7,307.8 L306.5,308 L305.6,308.2 L304.9,308.4 L304.9,308.6 L305.6,308.7 L306.6,308.8 L307.7,308.9 L309,308.9 L310.3,309 L311.4,309.1 L312.4,309.2 L313.1,309.2Z"/><path d="M354.8,171.2 L354,170.4 L353.1,169.3 L351.9,168.1 L350.7,166.7 L349.4,165.2 L348.2,163.8 L347.1,162.4 L346.2,161.3 L345.4,160.2 L344.6,159.1 L343.9,158 L343.2,156.9 L342.6,155.9 L342.1,155 L341.6,154.3 L341.1,153.7 L340.9,153.9 L341,154.5 L341.2,155.4 L341.5,156.4 L341.8,157.5 L342.2,158.8 L342.7,160.1 L343.2,161.4 L343.8,162.7 L344.6,164.1 L345.5,165.7 L346.5,167.4 L347.5,169 L348.5,170.6 L349.4,172.1 L350.1,173.3 L350.6,174.2Z"/><path d="M353.3,175.2 L354.3,174.8 L355.6,174.3 L357.2,173.8 L358.9,173.2 L360.7,172.6 L362.6,172.1 L364.4,171.7 L366,171.4 L367.8,171.2 L369.8,171.2 L371.9,171.3 L374,171.5 L376,171.7 L377.8,171.8 L379.3,171.9 L380.5,171.9 L380.5,171.7 L379.4,171.3 L377.9,170.9 L376.2,170.5 L374.2,170 L372.1,169.5 L370,169.1 L367.9,168.8 L366,168.6 L364,168.6 L362,168.8 L360,169 L358,169.3 L356.1,169.6 L354.5,169.9 L353.1,170.1 L352.1,170.2Z"/><path d="M350.7,171.1 L350,172.1 L349.2,173.4 L348.1,175 L346.9,176.7 L345.6,178.6 L344.3,180.5 L343,182.4 L341.9,184.2 L340.8,186 L339.6,188 L338.3,190.1 L337.2,192.2 L336,194.2 L335.1,196 L334.3,197.5 L333.7,198.6 L333.9,198.8 L334.8,197.8 L335.8,196.5 L337.1,194.8 L338.4,193 L339.9,191.1 L341.3,189.2 L342.8,187.4 L344.1,185.8 L345.5,184.2 L346.9,182.6 L348.5,180.9 L350,179.2 L351.4,177.7 L352.7,176.3 L353.9,175.2 L354.7,174.3Z"/><path d="M345.3,250.3 L344.8,248.8 L344.1,246.8 L343.2,244.5 L342.4,241.9 L341.6,239.3 L340.9,236.7 L340.5,234.2 L340.4,232.1 L340.6,230.1 L341.2,228 L342.1,225.7 L343.1,223.5 L344.2,221.5 L345.2,219.6 L346,218 L346.5,216.8 L346.3,216.6 L345.5,217.7 L344.4,219.1 L343.2,220.8 L341.8,222.8 L340.5,224.9 L339.2,227.2 L338.3,229.5 L337.6,231.9 L337.4,234.4 L337.6,237.2 L338,240 L338.5,242.9 L339.1,245.6 L339.7,248.1 L340.1,250.1 L340.3,251.5Z"/><path d="M342.1,248.4 L341.1,248.8 L339.8,249.4 L338.2,250 L336.4,250.6 L334.5,251.3 L332.7,252.1 L330.9,252.9 L329.4,253.8 L328,254.7 L326.7,255.8 L325.5,256.9 L324.3,258 L323.3,259.1 L322.4,260.1 L321.7,260.9 L321.1,261.6 L321.3,261.8 L322,261.4 L323,260.8 L324.1,260 L325.3,259.2 L326.6,258.3 L327.9,257.5 L329.3,256.8 L330.6,256.2 L332.1,255.8 L333.8,255.3 L335.6,254.8 L337.5,254.4 L339.3,254.1 L341,253.8 L342.4,253.6 L343.5,253.4Z"/><path d="M340.7,252.5 L341.5,253.3 L342.5,254.4 L343.7,255.8 L345,257.3 L346.5,258.9 L348,260.5 L349.6,261.9 L351.2,263.1 L352.9,264 L354.7,264.8 L356.6,265.4 L358.5,266 L360.3,266.4 L362,266.8 L363.3,267 L364.3,267.2 L364.5,267 L363.5,266.5 L362.2,265.9 L360.7,265.2 L359,264.5 L357.3,263.7 L355.6,262.8 L354.1,261.9 L352.8,260.9 L351.7,259.7 L350.5,258.3 L349.3,256.6 L348.2,254.9 L347.2,253.3 L346.2,251.7 L345.5,250.3 L344.9,249.3Z"/><path d="M443.6,302.2 L442.9,300.5 L442,298.3 L440.9,295.6 L439.6,292.5 L438.1,289.3 L436.4,286.1 L434.4,283.1 L432.1,280.3 L429.3,278.1 L426.1,276.3 L422.6,274.7 L419.1,273.3 L415.6,271.7 L412.3,269.8 L409.3,267.5 L406.7,264.6 L404.5,260.9 L402.7,256.2 L401.2,251 L399.7,245.4 L398.3,239.8 L396.6,234.4 L394.5,229.4 L391.9,225.3 L388.5,221.8 L384.4,218.8 L380,216.1 L375.4,213.8 L370.9,211.8 L366.8,210.1 L363.4,208.7 L360.9,207.5 L360.7,207.9 L363.1,209.2 L366.5,210.8 L370.5,212.6 L374.9,214.7 L379.4,217 L383.8,219.8 L387.6,222.8 L390.7,226.1 L393.1,230.1 L395,234.9 L396.6,240.2 L397.9,245.8 L399.2,251.5 L400.7,256.9 L402.5,261.8 L404.7,266 L407.6,269.3 L410.9,271.9 L414.4,274 L417.9,275.8 L421.4,277.4 L424.7,279 L427.5,280.7 L429.7,282.7 L431.6,285.1 L433.3,287.9 L434.8,290.9 L436.2,294 L437.3,297 L438.2,299.7 L439.1,302.1 L439.8,303.8Z"/><path d="M441,305.5 L442.1,305.7 L443.5,305.9 L445.2,306.2 L447.1,306.6 L449,307 L451,307.4 L452.8,307.9 L454.5,308.3 L456.2,308.8 L457.9,309.3 L459.7,309.9 L461.5,310.4 L463.1,311 L464.6,311.5 L465.9,311.9 L466.8,312.1 L467,311.9 L466.1,311.3 L465,310.7 L463.6,309.9 L462.1,309.1 L460.4,308.2 L458.8,307.3 L457.1,306.5 L455.5,305.7 L453.8,305 L452,304.2 L450.1,303.5 L448.2,302.8 L446.4,302.1 L444.7,301.5 L443.4,300.9 L442.4,300.5Z"/><path d="M439.8,301.2 L439.1,302.1 L438.2,303.3 L437,304.8 L435.7,306.4 L434.3,308.1 L433,309.8 L431.8,311.6 L430.8,313.3 L430,315 L429.4,316.9 L428.8,318.8 L428.3,320.6 L427.9,322.4 L427.6,324 L427.3,325.3 L427.2,326.4 L427.4,326.4 L427.9,325.5 L428.5,324.3 L429.1,322.8 L429.8,321.1 L430.5,319.4 L431.3,317.7 L432.2,316.1 L433.2,314.7 L434.3,313.4 L435.6,312 L437.1,310.5 L438.6,309.1 L440.1,307.7 L441.5,306.5 L442.7,305.5 L443.6,304.8Z"/><path d="M433.2,231.6 L432.3,230.5 L431.3,229 L430.1,227.1 L428.7,225 L427.3,222.8 L425.9,220.7 L424.4,218.8 L423.1,217.2 L421.7,215.8 L420.3,214.5 L418.8,213.3 L417.4,212.2 L416,211.3 L414.8,210.5 L413.8,209.9 L413,209.4 L412.8,209.6 L413.4,210.3 L414.3,211.2 L415.3,212.3 L416.4,213.4 L417.6,214.6 L418.8,216 L419.9,217.4 L420.9,218.8 L421.9,220.5 L423,222.5 L424.2,224.7 L425.3,227 L426.4,229.2 L427.3,231.2 L428.1,232.9 L428.6,234.2Z"/><path d="M431.8,235.3 L432.6,234.9 L433.7,234.3 L435,233.6 L436.4,232.9 L437.9,232.2 L439.4,231.5 L440.9,230.9 L442.3,230.3 L443.8,229.9 L445.4,229.5 L447.2,229.1 L448.9,228.8 L450.6,228.5 L452.1,228.2 L453.4,227.9 L454.3,227.6 L454.3,227.4 L453.3,227.3 L452,227.3 L450.5,227.2 L448.8,227.2 L447,227.3 L445.1,227.4 L443.4,227.5 L441.7,227.7 L440.1,227.9 L438.4,228.3 L436.6,228.7 L435,229.2 L433.4,229.6 L432,230 L430.9,230.3 L430,230.5Z"/><path d="M428.3,232.6 L428.3,234 L428.3,235.8 L428.2,237.9 L428.1,240.3 L428,242.8 L427.8,245.3 L427.7,247.7 L427.6,249.8 L427.6,252 L427.5,254.2 L427.4,256.4 L427.3,258.6 L427.2,260.7 L427.1,262.5 L427.1,264.1 L427.2,265.3 L427.4,265.3 L427.7,264.2 L428.1,262.6 L428.4,260.8 L428.8,258.8 L429.2,256.6 L429.6,254.4 L430,252.2 L430.4,250.2 L430.8,248 L431.2,245.6 L431.6,243.2 L432,240.7 L432.4,238.4 L432.8,236.3 L433.2,234.5 L433.5,233.2Z"/><path d="M384.8,303.6 L384.9,302.5 L385.1,301.1 L385.4,299.4 L385.6,297.5 L386,295.6 L386.4,293.7 L386.8,292 L387.2,290.6 L387.8,289.3 L388.6,288 L389.4,286.7 L390.3,285.5 L391.2,284.3 L392.1,283.2 L392.7,282.3 L393.2,281.6 L393,281.4 L392.3,281.9 L391.4,282.6 L390.4,283.4 L389.2,284.4 L388,285.5 L386.9,286.7 L385.7,288 L384.8,289.4 L383.9,290.9 L383.1,292.7 L382.4,294.6 L381.8,296.6 L381.2,298.4 L380.6,300 L380.2,301.4 L379.8,302.4Z"/><path d="M383.2,300.6 L381.9,300.2 L380,299.6 L377.9,298.9 L375.4,298.1 L372.8,297.3 L370.2,296.6 L367.6,296 L365.2,295.6 L362.8,295.6 L360.4,295.7 L357.9,295.9 L355.5,296.2 L353.2,296.6 L351.2,297 L349.5,297.3 L348.2,297.6 L348.2,297.8 L349.5,297.9 L351.3,297.9 L353.3,297.8 L355.6,297.7 L358,297.7 L360.4,297.8 L362.7,298 L364.8,298.4 L366.9,299 L369.2,299.8 L371.6,300.8 L374,301.8 L376.3,302.9 L378.3,303.9 L380.1,304.8 L381.4,305.4Z"/><path d="M380.4,304.8 L381.3,305.5 L382.4,306.3 L383.6,307.4 L385,308.5 L386.3,309.8 L387.6,311.1 L388.8,312.4 L389.8,313.7 L390.6,315.1 L391.4,316.8 L392.1,318.6 L392.8,320.5 L393.3,322.3 L393.9,324 L394.3,325.4 L394.8,326.4 L395,326.4 L394.9,325.3 L394.8,323.8 L394.5,322.1 L394.2,320.1 L393.9,318.1 L393.4,316.1 L392.9,314.1 L392.2,312.3 L391.3,310.7 L390.3,309 L389.1,307.3 L387.8,305.8 L386.7,304.4 L385.6,303.1 L384.8,302 L384.2,301.2Z"/><path d="M430.5,179.6 L430,179.8 L429.3,180.1 L428.4,180.4 L427.4,180.8 L426.4,181.1 L425.4,181.5 L424.5,181.9 L423.7,182.4 L423,182.8 L422.4,183.4 L421.8,183.9 L421.3,184.4 L420.9,184.9 L420.5,185.4 L420.2,185.8 L420,186.1 L420.2,186.3 L420.5,186.1 L420.9,185.8 L421.4,185.4 L421.9,185 L422.5,184.6 L423.1,184.3 L423.7,183.9 L424.3,183.6 L425.1,183.4 L425.9,183.1 L426.9,182.9 L428,182.6 L429,182.4 L429.9,182.2 L430.7,182.1 L431.3,182Z"/><path d="M338.3,353.2 L338.4,352.6 L338.5,351.8 L338.7,351 L338.9,350.1 L339.1,349.1 L339.4,348.2 L339.8,347.4 L340.2,346.6 L340.8,345.9 L341.7,345 L342.7,344.2 L343.7,343.4 L344.8,342.6 L345.7,341.9 L346.5,341.3 L347.1,340.8 L346.9,340.6 L346.3,340.9 L345.4,341.3 L344.3,341.9 L343.1,342.5 L341.9,343.2 L340.8,343.9 L339.7,344.6 L338.8,345.4 L338,346.3 L337.4,347.2 L336.9,348.2 L336.4,349.2 L336,350.1 L335.6,351 L335.4,351.6 L335.1,352Z"/><path d="M406.2,364.4 L405.8,363.7 L405.3,362.7 L404.8,361.4 L404.2,360.1 L403.6,358.7 L403,357.3 L402.4,355.9 L401.9,354.7 L401.4,353.5 L400.9,352.3 L400.4,351.1 L400,349.9 L399.6,348.8 L399.2,347.8 L398.8,347 L398.5,346.4 L398.3,346.4 L398.4,347.1 L398.5,348 L398.7,349.1 L399,350.2 L399.2,351.5 L399.5,352.8 L399.8,354.1 L400.1,355.3 L400.5,356.6 L400.9,358 L401.3,359.5 L401.7,361 L402.1,362.4 L402.5,363.7 L402.8,364.8 L403,365.6Z"/><path d="M460.5,363.2 L460.3,362.6 L460.2,361.7 L460,360.7 L459.8,359.5 L459.5,358.3 L459.3,357.1 L459.1,355.9 L458.9,354.9 L458.7,353.9 L458.5,352.9 L458.3,351.9 L458.1,350.9 L457.9,349.9 L457.8,349.1 L457.6,348.4 L457.4,347.9 L457.2,347.9 L457.1,348.5 L457.1,349.2 L457.1,350 L457.1,351 L457.1,352 L457.1,353 L457.1,354.1 L457.1,355.1 L457.1,356.1 L457.1,357.3 L457.1,358.5 L457.1,359.8 L457.2,360.9 L457.2,362 L457.1,362.9 L457.1,363.6Z"/><path d="M315.2,348 L315.1,344.3 L315.1,339.4 L315,333.6 L314.9,327.1 L314.8,320.2 L314.7,313.3 L314.6,306.4 L314.5,300 L314.5,293.8 L314.5,287.6 L314.6,281.4 L314.6,275.1 L314.6,268.8 L314.7,262.6 L314.7,256.3 L314.7,250 L314.7,243.6 L314.7,237.1 L314.7,230.5 L314.7,224 L314.7,217.6 L314.7,211.4 L314.7,205.5 L314.7,200 L314.8,194.8 L314.8,189.7 L314.9,184.7 L314.9,180.1 L315,175.8 L315,172.1 L315.1,168.9 L315.1,166.4 L313.9,166.4 L313.8,168.9 L313.8,172 L313.7,175.8 L313.6,180.1 L313.5,184.7 L313.4,189.6 L313.3,194.8 L313.3,200 L313.2,205.5 L313.1,211.3 L313.1,217.5 L313.1,224 L313,230.5 L313,237.1 L312.9,243.6 L312.9,250 L312.8,256.3 L312.8,262.5 L312.7,268.8 L312.6,275.1 L312.6,281.4 L312.5,287.6 L312.5,293.8 L312.5,300 L312.5,306.4 L312.5,313.3 L312.5,320.3 L312.6,327.1 L312.7,333.6 L312.7,339.4 L312.8,344.3 L312.8,348Z"/></g></g>
<clipPath id="rectclip"><rect x="254" y="98" width="121.5" height="66"/></clipPath>
<g clip-path="url(#rectclip)"><rect x="254" y="98" width="121.5" height="66" fill="#29A8E0"/><g opacity="0.5"><path d="M191,701 C190.2,689.3 188.4,648.6 186.4,631 C184.4,613.4 180.8,604.1 179,595.6 C177.2,587.1 176.8,584.8 175.8,580 C174.8,575.2 174.2,571.5 173,567 C171.8,562.5 171,557.2 168.6,552.7 C166.2,548.2 163.4,545 158.6,539.7 C153.8,534.4 146.1,527.7 139.9,521 C133.7,514.3 126.7,506.1 121.2,499.4 C115.7,492.7 111.1,486.7 106.8,480.7 C102.5,474.7 98.4,469.5 95.3,463.5 C92.2,457.5 89.9,451.4 88.1,444.7 C86.3,438 85,430.4 84.5,423.2 C84,416 84.6,406.4 85.2,401.6 C85.8,396.8 86.7,396 88.1,394.4 C89.5,392.8 90.7,392.3 93.8,392.2 C96.9,392.1 103.1,393.3 106.8,393.7 C110.5,394.1 114.5,394.5 116.1,394.6 C115.7,393.3 114.2,394 113.7,387 C113.2,380 112.7,364.2 112.8,352.7 C112.9,341.2 113.5,329.7 114.5,318.2 C115.5,306.7 116.9,295.1 118.9,283.6 C120.9,272.1 123,260.5 126.6,249 C130.2,237.5 136.5,222.9 140.4,214.5 C144.3,206.1 144.5,205.9 150,198.8 C155.5,191.7 165.6,180.8 173.3,172.1 C181.1,163.4 188.8,153.5 196.5,146.5 C204.2,139.5 210.5,134.8 219.8,130.2 C229.1,125.6 241.4,122.2 252.3,119.2 C263.2,116.2 274.6,113.9 285,112.5 C295.4,111.1 305,110.9 315,111 C325,111.1 334.9,111.1 345,113 C355.1,114.9 365.2,118.7 375.6,122.3 C386,125.9 397.8,129.7 407.2,134.7 C416.6,139.7 423.7,144.6 432,152.1 C440.3,159.6 449.6,170.1 456.8,179.4 C464,188.7 469.6,198.4 475.4,207.9 C481.2,217.4 487.4,229.1 491.5,236.4 C495.6,243.8 497.1,245.4 500,252 C502.9,258.6 506.5,267.6 508.6,275.9 C510.7,284.2 511.6,293.2 512.5,301.8 C513.4,310.4 513.7,319.1 513.8,327.7 C513.9,336.3 513.5,345 513.1,353.6 C512.7,362.2 512.2,370.4 511.2,379.4 C510.2,388.4 507.7,403 507,407.7 C508.6,406.8 512.8,404.6 516.5,402.2 C520.2,399.8 525.4,394.8 529.1,393.5 C532.8,392.2 536.1,392.8 538.6,394.2 C541.1,395.6 543,398 544.2,402.2 C545.4,406.4 545.9,413.3 545.8,419.6 C545.7,425.9 545.1,433 543.4,440.1 C541.7,447.2 538.7,455.4 535.5,462.3 C532.3,469.2 528.1,475 524.4,481.3 C520.7,487.6 517.3,494 513.3,500.3 C509.3,506.6 505.1,514 500.6,519.3 C496.1,524.6 490.6,528.8 486.4,532 C482.2,535.2 477.9,535.9 475.3,538.3 C472.7,540.7 472.2,540.9 470.6,546.2 C469,551.5 467.1,561 465.8,570 C464.5,579 464,585.8 462.7,600 C461.4,614.2 458.9,639 458,655 C457.1,671 457.2,689.2 457,696 C435.8,696.7 374.3,699.2 330,700 C285.7,700.8 214.2,700.8 191,701 Z" fill="#FDD5C2"/>
<path d="M104.3,432.6 L104.3,434.7 L104.7,437.4 L105.3,440.7 L106,444.3 L106.8,448 L107.6,451.7 L108.5,455.2 L109.4,458.3 L110.3,460.9 L111,463.2 L111.8,465.4 L112.7,467.5 L113.7,469.7 L114.9,472 L116.4,474.5 L118.2,477.3 L120.5,480.8 L123.4,484.8 L126.6,489.1 L129.9,493.5 L133.2,497.7 L136.3,501.5 L138.9,504.6 L141.1,506.8 L141.5,506.4 L140.2,503.7 L137.9,500.3 L135.2,496.3 L132.1,491.9 L129,487.3 L126,482.9 L123.3,478.9 L121.2,475.5 L119.6,472.6 L118.2,470.2 L117.1,468 L116.2,466 L115.4,464 L114.6,461.9 L113.7,459.7 L112.8,457.1 L111.8,454.2 L110.7,450.8 L109.7,447.3 L108.6,443.6 L107.6,440.1 L106.7,436.9 L105.8,434.3 L104.9,432.4Z" fill="#C9A040"/><path d="M533.6,424.3 L533,426.1 L532.6,428.6 L532.1,431.6 L531.7,434.8 L531.1,438.3 L530.6,441.6 L529.9,444.8 L529.2,447.6 L528.5,450.2 L527.6,452.6 L526.8,454.9 L525.8,457.2 L524.8,459.5 L523.7,461.7 L522.6,463.9 L521.3,466.1 L519.9,468.3 L518.3,470.4 L516.7,472.6 L515,474.7 L513.2,476.9 L511.3,479.1 L509.4,481.3 L507.5,483.5 L505.4,485.8 L503.1,488.3 L500.7,490.9 L498.2,493.5 L495.9,495.9 L493.8,498.2 L492.1,500.1 L491,501.7 L491.4,502.1 L493,501 L495,499.4 L497.3,497.4 L499.8,495.1 L502.4,492.7 L505,490.2 L507.5,487.8 L509.7,485.5 L511.7,483.4 L513.7,481.3 L515.7,479.1 L517.6,477 L519.5,474.8 L521.2,472.5 L522.8,470.3 L524.3,467.9 L525.7,465.6 L526.9,463.3 L528,460.9 L529,458.5 L529.9,456.1 L530.8,453.6 L531.5,451.1 L532.2,448.4 L532.8,445.4 L533.2,442.1 L533.6,438.6 L533.9,435.1 L534.1,431.8 L534.3,428.8 L534.4,426.2 L534.2,424.3Z" fill="#C9A040"/><path d="M186.3,602.5 L188,604.9 L190.2,608.1 L192.9,612 L195.9,616.3 L199.1,620.7 L202.4,625.2 L205.7,629.3 L208.8,633 L211.8,636.3 L214.7,639.4 L217.6,642.4 L220.6,645.2 L223.8,648 L227.2,650.8 L231,653.5 L235.2,656.3 L239.8,659.1 L244.9,662 L250.4,665 L256.1,667.8 L261.9,670.6 L267.9,673.1 L273.8,675.4 L279.5,677.4 L285.2,679.2 L290.8,680.8 L296.4,682.3 L302.1,683.5 L307.9,684.5 L313.8,685.2 L319.8,685.5 L326.1,685.5 L332.6,685.1 L339.3,684.3 L346.3,683.3 L353.4,681.9 L360.4,680.3 L367.4,678.3 L374.1,676 L380.6,673.3 L386.8,670.3 L392.9,666.8 L398.9,662.9 L404.7,658.8 L410.4,654.5 L415.8,650 L421,645.5 L426,641 L430.9,636.2 L435.7,630.9 L440.5,625.3 L444.9,619.7 L449,614.3 L452.7,609.5 L455.7,605.5 L458.1,602.5 L455.9,600.7 L453.5,603.7 L450.4,607.8 L446.8,612.6 L442.7,617.9 L438.3,623.5 L433.6,629 L428.8,634.3 L424,639 L419.1,643.4 L414,647.8 L408.6,652.2 L403,656.5 L397.3,660.5 L391.4,664.3 L385.5,667.7 L379.4,670.7 L373.1,673.2 L366.5,675.5 L359.7,677.4 L352.8,679.1 L345.8,680.4 L339,681.4 L332.3,682.1 L325.9,682.5 L319.9,682.6 L314,682.2 L308.3,681.6 L302.7,680.6 L297.1,679.4 L291.6,677.9 L286,676.3 L280.5,674.6 L274.8,672.6 L269,670.3 L263.2,667.8 L257.4,665.1 L251.8,662.2 L246.4,659.4 L241.4,656.5 L236.8,653.7 L232.7,651 L229.1,648.3 L225.8,645.7 L222.7,642.9 L219.8,640.1 L217,637.2 L214.1,634.2 L211.2,631 L208.1,627.3 L204.9,623.2 L201.6,618.9 L198.5,614.4 L195.5,610.2 L192.9,606.3 L190.6,603.1 L188.9,600.7Z" fill="#C8A070"/><path d="M301.5,488.8 L300.6,489.5 L299.4,490.3 L298,491.4 L296.3,492.6 L294.6,494 L292.9,495.4 L291.4,497 L290.1,498.6 L288.9,500.2 L287.8,501.8 L286.7,503.7 L285.7,505.6 L284.9,507.6 L284.3,509.7 L284.2,512 L284.6,514.2 L285.6,516.3 L287,518.2 L288.8,519.9 L290.7,521.5 L292.8,522.9 L294.8,524.2 L296.9,525.4 L298.7,526.4 L300.4,527.3 L302.1,528.1 L303.8,528.8 L305.6,529.4 L307.5,529.9 L309.6,530.2 L311.9,530.4 L314.4,530.4 L317.2,530.3 L320.3,529.9 L323.6,529.5 L327.1,528.9 L330.6,528.2 L334.1,527.5 L337.5,526.7 L340.7,526 L344.1,525.2 L347.6,524.2 L351.2,523.1 L354.7,522 L358,521 L360.9,520 L363.3,519.3 L365.2,518.7 L363.2,512.5 L361.3,513.1 L358.9,513.9 L356,514.9 L352.7,516 L349.3,517.1 L345.8,518.2 L342.5,519.2 L339.3,520 L336.1,520.8 L332.8,521.5 L329.4,522.3 L326,523 L322.7,523.6 L319.6,524.1 L316.7,524.4 L314.2,524.6 L312.1,524.6 L310.2,524.5 L308.6,524.3 L307.1,524 L305.7,523.5 L304.3,523 L302.9,522.3 L301.3,521.6 L299.5,520.6 L297.6,519.6 L295.7,518.4 L293.9,517.2 L292.2,515.9 L290.9,514.6 L289.9,513.5 L289.4,512.6 L289.3,511.7 L289.4,510.6 L289.7,509.2 L290.3,507.7 L291.1,506 L292,504.4 L293,502.9 L293.9,501.4 L294.9,500.2 L296.2,498.9 L297.6,497.6 L299.2,496.3 L300.7,495.1 L302.2,494 L303.4,493.1 L304.3,492.4Z" fill="#D2A24A"/><path d="M353.6,491.4 L353.9,492.2 L354.4,493.1 L354.9,494.2 L355.5,495.3 L356.1,496.6 L356.7,498 L357.3,499.4 L357.7,500.8 L358.2,502.5 L358.7,504.5 L359.2,506.8 L359.7,509.1 L360.1,511.3 L360.5,513.4 L360.8,515.1 L361.1,516.4 L367.3,514.8 L366.9,513.6 L366.4,511.9 L365.8,509.9 L365.2,507.7 L364.5,505.4 L363.7,503.1 L363,501 L362.3,499.2 L361.5,497.5 L360.7,496 L359.8,494.6 L359,493.3 L358.2,492.2 L357.5,491.2 L356.9,490.4 L356.4,489.8Z" fill="#D2A24A"/><path d="M282.4,595.8 L283.9,595.4 L286,594.7 L288.4,593.9 L291.1,593 L293.9,592.2 L296.6,591.4 L299.1,590.9 L301.2,590.6 L303.1,590.6 L305,590.7 L306.8,590.9 L308.6,591.2 L310.4,591.7 L312.1,592.2 L313.7,592.7 L315.1,593.2 L316.3,593.8 L317.3,594.5 L318.4,595.3 L319.5,596.3 L320.5,597.3 L321.7,598.2 L323.1,599 L324.8,599.5 L326.5,599.3 L328,598.7 L329.1,597.8 L330,596.9 L330.7,596 L331.4,595.2 L332.1,594.5 L332.8,593.8 L333.7,592.9 L334.5,591.9 L335.2,590.9 L335.8,590.1 L336.4,589.5 L336.9,589.1 L337.5,588.8 L338.4,588.6 L339.6,588.5 L341.3,588.6 L343.2,588.9 L345.3,589.3 L347.5,589.8 L349.8,590.3 L352,590.9 L354.2,591.6 L356.5,592.3 L359,593.2 L361.6,594.2 L364.3,595.2 L366.8,596.2 L369,597.2 L370.9,598 L372.4,598.6 L374.4,593.4 L373,592.9 L371.1,592.1 L368.8,591.2 L366.3,590.2 L363.6,589.1 L360.9,588.1 L358.2,587.2 L355.8,586.4 L353.4,585.8 L351.1,585.2 L348.7,584.6 L346.3,584.1 L344,583.7 L341.8,583.4 L339.7,583.3 L337.6,583.4 L335.8,583.9 L334.1,584.7 L332.8,585.8 L331.8,586.9 L331,587.9 L330.4,588.8 L329.8,589.6 L329.2,590.2 L328.4,591 L327.6,592 L326.9,592.8 L326.3,593.6 L325.8,594.1 L325.4,594.4 L325.2,594.5 L325.2,594.5 L325,594.5 L324.5,594.2 L323.7,593.5 L322.7,592.7 L321.5,591.6 L320.2,590.6 L318.6,589.6 L316.9,588.8 L315.2,588.2 L313.5,587.6 L311.6,587.1 L309.6,586.6 L307.6,586.3 L305.4,586 L303.1,585.9 L300.8,586 L298.2,586.3 L295.5,587 L292.6,587.8 L289.7,588.7 L287,589.6 L284.5,590.4 L282.5,591.1 L281,591.6Z" fill="#D2A24A"/><path d="M277.6,601.1 L279.1,601.7 L281,602.6 L283.4,603.6 L286,604.7 L288.8,605.9 L291.6,607.1 L294.5,608.2 L297.2,609.2 L299.7,610.2 L302.3,611.2 L305,612.2 L307.7,613.2 L310.5,614.1 L313.4,614.9 L316.5,615.5 L319.6,615.8 L322.7,615.8 L325.9,615.7 L329.1,615.4 L332.4,614.9 L335.7,614.2 L339,613.4 L342.4,612.5 L345.8,611.5 L349.6,610.2 L353.6,608.5 L357.8,606.6 L362,604.6 L365.9,602.7 L369.4,601 L372.4,599.5 L374.6,598.5 L372.2,593.5 L370,594.6 L367,596.1 L363.5,597.9 L359.6,599.8 L355.5,601.8 L351.5,603.6 L347.6,605.2 L344.2,606.5 L340.9,607.5 L337.7,608.4 L334.6,609.2 L331.5,609.8 L328.5,610.3 L325.5,610.7 L322.6,610.8 L319.8,610.8 L317.1,610.6 L314.5,610.1 L311.9,609.4 L309.3,608.6 L306.7,607.7 L304,606.7 L301.4,605.7 L298.8,604.8 L296.2,603.8 L293.4,602.8 L290.6,601.6 L287.8,600.5 L285.2,599.4 L282.9,598.4 L280.9,597.5 L279.4,596.9Z" fill="#D2A24A"/>
<path d="M315,345.8 C314.2,346.6 312.8,349.3 310,350.3 C307.2,351.3 302.2,352.1 298.4,352 C294.6,351.9 289.1,350 287.3,349.6 C286.1,350.2 283,352.3 280,353.5 C277,354.7 276.4,355.3 269.5,356.6 C262.6,357.9 248.8,360.6 238.5,361.1 C228.2,361.6 215.2,359.4 207.5,359.5 C199.8,359.6 198.4,360.7 192,361.9 C185.6,363.1 176.6,367 168.8,366.5 C161.1,366 151.2,361.9 145.5,358.8 C139.8,355.7 137,352.3 134.7,347.9 C132.4,343.5 131.8,337.4 131.6,332.4 C131.4,327.4 132,322.7 133.5,318 C135,313.3 139.8,310.1 140.4,304.4 C141,298.7 137.2,290 137,283.6 C136.8,277.2 138.1,271.8 139.5,266 C140.9,260.2 143.3,254.6 145.6,249 C147.9,243.4 149.3,238.9 153.3,232.7 C157.3,226.5 166.5,217.6 169.8,211.6 C173.1,205.6 170.8,200.8 173.3,196.5 C175.8,192.2 179.3,188.8 184.9,186 C190.5,183.2 202.7,182.7 207,180 C211.3,177.3 206.4,172.3 210.5,169.8 C214.6,167.3 226.8,168.5 231.4,165 C236.1,161.5 234.9,152.9 238.4,148.8 C241.9,144.8 247,143.3 252.3,140.7 C257.6,138.1 264.6,134.7 270,133.2 C275.4,131.7 280.2,131.6 285,131.8 C289.8,132 295,133.3 299,134.5 C303,135.7 306.3,137.3 309,139 C311.7,140.7 314,143.6 315,144.5 C316,143.6 318.3,140.7 321,139 C323.7,137.3 327,135.7 331,134.5 C335,133.3 340.2,132 345,131.8 C349.8,131.6 354.9,132.1 360,133.2 C365.1,134.3 369.8,136.3 375.6,138.4 C381.4,140.5 389.1,142.6 394.8,145.9 C400.5,149.2 405.1,153.3 409.7,158.3 C414.2,163.3 417.4,171.4 422.1,175.7 C426.9,180 433.6,181.6 438.2,184.3 C442.8,187 446.3,188.3 449.4,191.8 C452.5,195.3 454.9,200.9 456.8,205.4 C458.7,209.9 457.8,215 460.5,219.1 C463.2,223.2 468.6,224.7 473,230.2 C477.4,235.7 483.3,244.4 486.6,252 C489.9,259.6 492.6,268.2 493,275.9 C493.4,283.5 489,291.4 489.2,297.9 C489.4,304.4 492.5,308.4 494.4,314.7 C496.3,321 500.4,330.2 500.7,335.5 C501,340.8 499.4,342.8 496,346.4 C492.6,350 486.9,354.4 480.5,357.2 C474.1,360 465.1,361.8 457.3,363.4 C449.6,364.9 443.1,366.1 434,366.5 C424.9,366.9 410.8,365.9 403,365.7 C395.2,365.4 395.2,365.9 387.5,365 C379.8,364.1 363.6,361.6 356.5,360.3 C349.4,359 348.3,358.3 345,357 C341.7,355.7 338.1,353.3 336.7,352.6 C335.3,352.7 330.9,353.4 328.2,353 C325.5,352.6 322.7,351.7 320.5,350.5 C318.3,349.3 315.9,346.6 315,345.8 Z" fill="#C89B6C" stroke="#7B5129" stroke-width="2.4" stroke-linejoin="round"/>
<g fill="#7B5129"><path d="M267.4,174.3 L268.3,172.5 L269.8,170.1 L271.6,167.2 L273.6,164.1 L275.6,161 L277.4,158.1 L278.9,155.7 L279.8,153.9 L279.6,153.7 L278.1,155.1 L276.2,157.2 L273.9,159.7 L271.4,162.4 L268.9,165.1 L266.6,167.7 L264.7,169.7 L263.2,171.1Z"/><path d="M265,170.1 L263.9,170.4 L262.3,170.7 L260.5,171.1 L258.5,171.5 L256.4,171.8 L254.2,172.2 L252,172.4 L250,172.6 L247.9,172.7 L245.5,172.8 L243,172.7 L240.6,172.7 L238.2,172.6 L236.1,172.5 L234.3,172.5 L232.9,172.6 L232.9,172.8 L234.2,173.1 L236,173.4 L238.1,173.8 L240.4,174.2 L242.9,174.6 L245.4,174.9 L247.8,175.2 L250,175.4 L252.2,175.5 L254.4,175.5 L256.7,175.5 L258.9,175.4 L261,175.3 L262.9,175.3 L264.4,175.3 L265.6,175.3Z"/><path d="M263.4,174.5 L264.1,175 L265,175.6 L265.9,176.4 L267,177.2 L268,178.1 L269.1,179 L270,179.9 L270.9,180.8 L271.6,181.7 L272.3,182.8 L273.1,184 L273.8,185.2 L274.4,186.4 L275,187.4 L275.5,188.3 L276,189 L276.2,188.8 L276.1,188.1 L275.8,187.1 L275.5,185.9 L275.2,184.6 L274.7,183.2 L274.3,181.8 L273.7,180.5 L273.1,179.2 L272.4,178 L271.6,176.8 L270.7,175.6 L269.8,174.4 L268.9,173.3 L268.2,172.3 L267.6,171.5 L267.2,170.9Z"/><path d="M204.9,208.2 L205,207.2 L205.1,205.8 L205.3,204.2 L205.5,202.4 L205.7,200.5 L205.9,198.7 L206.1,196.9 L206.3,195.3 L206.5,193.8 L206.8,192.2 L207,190.6 L207.3,189.1 L207.5,187.7 L207.7,186.4 L207.8,185.3 L207.8,184.4 L207.6,184.4 L207.2,185.1 L206.8,186.1 L206.3,187.4 L205.8,188.7 L205.2,190.2 L204.7,191.7 L204.2,193.2 L203.7,194.7 L203.2,196.3 L202.6,198 L202.1,199.8 L201.6,201.6 L201.1,203.4 L200.6,204.9 L200.2,206.2 L199.9,207.2Z"/><path d="M202,205.1 L201,205.4 L199.5,205.8 L197.8,206.2 L195.8,206.6 L193.8,207 L191.6,207.5 L189.6,208.1 L187.7,208.7 L185.8,209.4 L183.7,210.2 L181.7,211 L179.6,211.9 L177.7,212.8 L176,213.6 L174.6,214.3 L173.5,214.9 L173.7,215.1 L174.8,214.9 L176.3,214.5 L178.2,213.9 L180.2,213.4 L182.3,212.8 L184.4,212.2 L186.5,211.7 L188.3,211.3 L190.2,211.1 L192.2,210.8 L194.3,210.7 L196.4,210.5 L198.3,210.4 L200.1,210.3 L201.6,210.3 L202.8,210.3Z"/><path d="M201.4,210.1 L202.7,210.5 L204.5,211 L206.5,211.6 L208.7,212.3 L211,213.1 L213.3,214 L215.3,215 L217.1,216.1 L218.8,217.4 L220.6,219.1 L222.3,221 L224,223.1 L225.6,225 L227,226.8 L228.2,228.3 L229.2,229.4 L229.4,229.2 L228.7,228 L227.7,226.3 L226.6,224.3 L225.2,222.2 L223.8,219.9 L222.2,217.7 L220.6,215.7 L218.9,213.9 L217,212.4 L214.8,211 L212.5,209.8 L210.2,208.6 L208.1,207.6 L206.1,206.7 L204.5,205.9 L203.4,205.3Z"/><path d="M281.8,229.9 L282.7,228.5 L283.8,226.5 L285.1,224.3 L286.7,221.8 L288.3,219.3 L289.9,216.9 L291.5,214.8 L293,213 L294.4,211.5 L296.1,210.2 L297.8,208.9 L299.6,207.7 L301.3,206.7 L302.8,205.8 L304,205 L305,204.3 L304.8,204.1 L303.8,204.5 L302.4,205 L300.7,205.6 L298.9,206.4 L296.9,207.3 L294.9,208.4 L292.9,209.6 L291,211 L289.2,212.7 L287.3,214.8 L285.3,217.2 L283.4,219.5 L281.6,221.9 L280,224 L278.6,225.7 L277.6,226.9Z"/><path d="M280.5,225.9 L279.3,225.7 L277.7,225.4 L275.8,224.9 L273.7,224.4 L271.5,223.8 L269.3,223.3 L267.2,222.9 L265.3,222.7 L263.4,222.5 L261.6,222.4 L259.7,222.4 L258,222.5 L256.3,222.5 L254.9,222.6 L253.6,222.8 L252.7,222.9 L252.7,223.1 L253.6,223.4 L254.8,223.6 L256.3,223.8 L257.9,224 L259.6,224.2 L261.4,224.6 L263.1,224.9 L264.7,225.3 L266.5,225.9 L268.4,226.6 L270.4,227.3 L272.5,228.2 L274.5,229 L276.3,229.7 L277.8,230.4 L278.9,230.9Z"/><path d="M277.2,228.9 L277.5,229.8 L277.9,231 L278.3,232.4 L278.8,233.9 L279.3,235.6 L279.8,237.2 L280.2,238.8 L280.6,240.2 L281,241.6 L281.4,243.2 L281.7,244.7 L282,246.3 L282.3,247.7 L282.6,249 L282.9,250.1 L283.2,250.9 L283.4,250.9 L283.5,250 L283.5,248.9 L283.6,247.6 L283.6,246.1 L283.5,244.5 L283.5,242.9 L283.4,241.3 L283.4,239.8 L283.2,238.2 L283.1,236.6 L282.9,234.8 L282.7,233.1 L282.5,231.5 L282.4,230 L282.3,228.8 L282.2,227.9Z"/><path d="M282.3,250.4 L281.6,251.8 L280.6,253.6 L279.4,255.8 L278,258.3 L276.7,260.9 L275.4,263.6 L274.3,266.2 L273.4,268.6 L272.8,270.9 L272.2,273.2 L271.7,275.5 L271.3,277.8 L271.1,280.1 L271.1,282.4 L271.3,284.8 L271.8,287.1 L272.6,289.4 L273.8,291.7 L275.2,294 L276.8,296.3 L278.4,298.5 L280.1,300.7 L281.5,303 L282.8,305.2 L283.9,307.4 L285,309.7 L286,312 L286.9,314.3 L287.8,316.6 L288.6,318.8 L289.4,321 L290.1,323 L290.8,325.1 L291.4,327.2 L291.9,329.3 L292.4,331.3 L292.8,333.2 L293.2,334.8 L293.5,336.3 L293.8,337.3 L294.2,337.3 L294,336.2 L293.7,334.7 L293.4,333.1 L293,331.2 L292.5,329.1 L292,327 L291.5,324.9 L290.9,322.8 L290.2,320.7 L289.4,318.5 L288.6,316.3 L287.8,314 L286.9,311.6 L285.9,309.3 L284.9,306.9 L283.8,304.6 L282.5,302.3 L281.1,300.1 L279.5,297.8 L277.9,295.5 L276.3,293.3 L275,291.1 L273.9,288.9 L273.2,286.7 L272.8,284.5 L272.7,282.4 L272.7,280.2 L273,278 L273.4,275.8 L273.9,273.6 L274.5,271.4 L275.2,269.2 L276,266.9 L277.1,264.4 L278.4,261.8 L279.8,259.3 L281.2,256.8 L282.4,254.7 L283.5,252.8 L284.3,251.4Z"/><path d="M165,272.9 L165.8,272.3 L166.8,271.5 L167.9,270.6 L169.2,269.7 L170.6,268.7 L171.9,267.8 L173.3,266.9 L174.5,266.3 L175.7,265.8 L177,265.3 L178.5,265 L179.9,264.7 L181.3,264.4 L182.6,264.1 L183.6,263.9 L184.4,263.6 L184.4,263.4 L183.6,263.3 L182.5,263.2 L181.2,263.2 L179.8,263.1 L178.2,263.2 L176.6,263.2 L175.1,263.4 L173.5,263.7 L172,264.2 L170.4,264.8 L168.8,265.5 L167.2,266.2 L165.7,267 L164.3,267.6 L163.2,268.1 L162.4,268.5Z"/><path d="M161.4,269.6 L161,270.6 L160.6,271.9 L160,273.4 L159.3,275.2 L158.6,277 L157.9,278.9 L157.2,280.8 L156.7,282.5 L156.3,284.3 L155.9,286.2 L155.6,288.1 L155.3,290 L155,291.8 L154.8,293.5 L154.6,294.8 L154.6,295.9 L154.8,295.9 L155.2,295 L155.7,293.7 L156.2,292.1 L156.7,290.4 L157.3,288.6 L158,286.8 L158.6,285 L159.3,283.5 L160.1,281.9 L160.9,280.3 L161.9,278.6 L162.8,276.9 L163.8,275.3 L164.7,273.9 L165.4,272.7 L166,271.8Z"/><path d="M165.7,269 L164.8,268.2 L163.7,267.2 L162.4,266 L161,264.7 L159.6,263.3 L158.3,261.9 L157.1,260.6 L156.2,259.4 L155.6,258.2 L155,256.8 L154.5,255.3 L154.2,253.8 L153.8,252.3 L153.6,251 L153.3,249.9 L153,249.1 L152.8,249.1 L152.7,250 L152.7,251.1 L152.6,252.5 L152.7,254 L152.7,255.6 L152.9,257.3 L153.3,259 L153.8,260.6 L154.6,262.3 L155.6,264 L156.8,265.7 L158,267.3 L159.2,268.9 L160.3,270.3 L161.2,271.5 L161.7,272.4Z"/><path d="M235.5,297.8 L235.4,296.3 L235.3,294.2 L235.3,291.8 L235.3,289 L235.2,286.2 L235,283.2 L234.8,280.4 L234.4,277.8 L233.7,275.3 L232.9,272.7 L232,270 L231,267.5 L230,265.1 L229,263 L228.2,261.2 L227.6,259.9 L227.4,259.9 L227.7,261.4 L228.2,263.3 L228.8,265.5 L229.5,268 L230.2,270.6 L230.9,273.2 L231.3,275.8 L231.6,278.2 L231.7,280.6 L231.7,283.3 L231.5,286.1 L231.3,288.9 L231,291.6 L230.8,294 L230.5,296.1 L230.3,297.6Z"/><path d="M231.8,295.4 L230.7,296.1 L229.2,296.9 L227.4,298 L225.3,299.1 L223.2,300.3 L221.1,301.5 L219.1,302.7 L217.4,303.8 L215.7,304.9 L214,306 L212.3,307.2 L210.7,308.3 L209.2,309.4 L207.9,310.4 L206.8,311.2 L205.9,311.9 L206.1,312.1 L207.1,311.7 L208.3,311.1 L209.8,310.4 L211.5,309.6 L213.2,308.7 L215,307.9 L216.9,307 L218.6,306.2 L220.5,305.4 L222.6,304.5 L224.8,303.6 L227.1,302.7 L229.2,301.8 L231.1,301.1 L232.8,300.5 L234,300Z"/><path d="M232,300.1 L232.8,300.3 L234,300.5 L235.2,300.8 L236.6,301.2 L238.1,301.6 L239.6,302.1 L241,302.6 L242.3,303.2 L243.6,303.9 L245,304.8 L246.5,305.9 L248,307 L249.4,308.1 L250.7,309 L251.7,309.9 L252.6,310.4 L252.8,310.2 L252.2,309.4 L251.3,308.4 L250.2,307.2 L249,305.9 L247.7,304.5 L246.4,303.2 L245,301.9 L243.7,300.8 L242.4,299.9 L241,299 L239.5,298.2 L238.1,297.5 L236.7,296.8 L235.5,296.2 L234.5,295.7 L233.8,295.3Z"/><path d="M199.5,358.4 L198.8,357.7 L197.8,356.7 L196.7,355.5 L195.5,354.2 L194.2,352.9 L192.9,351.6 L191.7,350.4 L190.7,349.4 L189.7,348.5 L188.8,347.7 L187.9,347 L187,346.4 L186.2,345.8 L185.5,345.4 L184.9,345 L184.4,344.7 L184.2,344.9 L184.6,345.4 L185,345.9 L185.6,346.5 L186.3,347.2 L187,348 L187.8,348.8 L188.5,349.7 L189.3,350.6 L190.2,351.7 L191.2,353 L192.3,354.5 L193.5,355.9 L194.5,357.4 L195.5,358.7 L196.3,359.8 L196.9,360.6Z"/><path d="M243.2,360.4 L242.8,359.8 L242.4,359 L241.9,358 L241.4,356.9 L240.8,355.8 L240.3,354.7 L239.8,353.6 L239.4,352.7 L239,351.8 L238.7,350.9 L238.4,350 L238.1,349.1 L237.8,348.2 L237.6,347.5 L237.3,346.9 L237.1,346.4 L236.9,346.4 L236.9,346.9 L236.9,347.6 L236.9,348.4 L237,349.3 L237.1,350.3 L237.3,351.3 L237.4,352.3 L237.6,353.3 L237.9,354.3 L238.2,355.5 L238.5,356.7 L238.9,357.9 L239.3,359.1 L239.6,360.1 L239.9,361 L240,361.6Z"/><path d="M313.1,230.8 L312.4,230.8 L311.4,230.9 L310.3,231 L309,231.1 L307.8,231.1 L306.7,231.2 L305.7,231.3 L305,231.4 L305,231.6 L305.7,231.8 L306.6,232 L307.7,232.2 L309,232.4 L310.2,232.7 L311.3,232.9 L312.3,233.1 L312.9,233.2Z"/><path d="M302.9,281.8 L302.3,281.9 L301.3,282 L300.2,282.1 L298.9,282.2 L297.6,282.3 L296.2,282.5 L294.9,282.8 L293.7,283.2 L292.6,283.8 L291.6,284.5 L290.6,285.3 L289.6,286.2 L288.7,287 L287.9,287.8 L287.3,288.4 L286.8,288.9 L287,289.1 L287.6,288.8 L288.3,288.2 L289.2,287.6 L290.2,286.9 L291.2,286.2 L292.3,285.6 L293.3,285.1 L294.3,284.8 L295.3,284.6 L296.4,284.5 L297.7,284.5 L299,284.5 L300.2,284.6 L301.3,284.7 L302.3,284.7 L303.1,284.8Z"/><path d="M312.9,306.8 L312.3,306.9 L311.3,307.1 L310.1,307.3 L308.9,307.6 L307.7,307.8 L306.5,308 L305.6,308.2 L304.9,308.4 L304.9,308.6 L305.6,308.7 L306.6,308.8 L307.7,308.9 L309,308.9 L310.3,309 L311.4,309.1 L312.4,309.2 L313.1,309.2Z"/><path d="M354.8,171.2 L354,170.4 L353.1,169.3 L351.9,168.1 L350.7,166.7 L349.4,165.2 L348.2,163.8 L347.1,162.4 L346.2,161.3 L345.4,160.2 L344.6,159.1 L343.9,158 L343.2,156.9 L342.6,155.9 L342.1,155 L341.6,154.3 L341.1,153.7 L340.9,153.9 L341,154.5 L341.2,155.4 L341.5,156.4 L341.8,157.5 L342.2,158.8 L342.7,160.1 L343.2,161.4 L343.8,162.7 L344.6,164.1 L345.5,165.7 L346.5,167.4 L347.5,169 L348.5,170.6 L349.4,172.1 L350.1,173.3 L350.6,174.2Z"/><path d="M353.3,175.2 L354.3,174.8 L355.6,174.3 L357.2,173.8 L358.9,173.2 L360.7,172.6 L362.6,172.1 L364.4,171.7 L366,171.4 L367.8,171.2 L369.8,171.2 L371.9,171.3 L374,171.5 L376,171.7 L377.8,171.8 L379.3,171.9 L380.5,171.9 L380.5,171.7 L379.4,171.3 L377.9,170.9 L376.2,170.5 L374.2,170 L372.1,169.5 L370,169.1 L367.9,168.8 L366,168.6 L364,168.6 L362,168.8 L360,169 L358,169.3 L356.1,169.6 L354.5,169.9 L353.1,170.1 L352.1,170.2Z"/><path d="M350.7,171.1 L350,172.1 L349.2,173.4 L348.1,175 L346.9,176.7 L345.6,178.6 L344.3,180.5 L343,182.4 L341.9,184.2 L340.8,186 L339.6,188 L338.3,190.1 L337.2,192.2 L336,194.2 L335.1,196 L334.3,197.5 L333.7,198.6 L333.9,198.8 L334.8,197.8 L335.8,196.5 L337.1,194.8 L338.4,193 L339.9,191.1 L341.3,189.2 L342.8,187.4 L344.1,185.8 L345.5,184.2 L346.9,182.6 L348.5,180.9 L350,179.2 L351.4,177.7 L352.7,176.3 L353.9,175.2 L354.7,174.3Z"/><path d="M345.3,250.3 L344.8,248.8 L344.1,246.8 L343.2,244.5 L342.4,241.9 L341.6,239.3 L340.9,236.7 L340.5,234.2 L340.4,232.1 L340.6,230.1 L341.2,228 L342.1,225.7 L343.1,223.5 L344.2,221.5 L345.2,219.6 L346,218 L346.5,216.8 L346.3,216.6 L345.5,217.7 L344.4,219.1 L343.2,220.8 L341.8,222.8 L340.5,224.9 L339.2,227.2 L338.3,229.5 L337.6,231.9 L337.4,234.4 L337.6,237.2 L338,240 L338.5,242.9 L339.1,245.6 L339.7,248.1 L340.1,250.1 L340.3,251.5Z"/><path d="M342.1,248.4 L341.1,248.8 L339.8,249.4 L338.2,250 L336.4,250.6 L334.5,251.3 L332.7,252.1 L330.9,252.9 L329.4,253.8 L328,254.7 L326.7,255.8 L325.5,256.9 L324.3,258 L323.3,259.1 L322.4,260.1 L321.7,260.9 L321.1,261.6 L321.3,261.8 L322,261.4 L323,260.8 L324.1,260 L325.3,259.2 L326.6,258.3 L327.9,257.5 L329.3,256.8 L330.6,256.2 L332.1,255.8 L333.8,255.3 L335.6,254.8 L337.5,254.4 L339.3,254.1 L341,253.8 L342.4,253.6 L343.5,253.4Z"/><path d="M340.7,252.5 L341.5,253.3 L342.5,254.4 L343.7,255.8 L345,257.3 L346.5,258.9 L348,260.5 L349.6,261.9 L351.2,263.1 L352.9,264 L354.7,264.8 L356.6,265.4 L358.5,266 L360.3,266.4 L362,266.8 L363.3,267 L364.3,267.2 L364.5,267 L363.5,266.5 L362.2,265.9 L360.7,265.2 L359,264.5 L357.3,263.7 L355.6,262.8 L354.1,261.9 L352.8,260.9 L351.7,259.7 L350.5,258.3 L349.3,256.6 L348.2,254.9 L347.2,253.3 L346.2,251.7 L345.5,250.3 L344.9,249.3Z"/><path d="M443.6,302.2 L442.9,300.5 L442,298.3 L440.9,295.6 L439.6,292.5 L438.1,289.3 L436.4,286.1 L434.4,283.1 L432.1,280.3 L429.3,278.1 L426.1,276.3 L422.6,274.7 L419.1,273.3 L415.6,271.7 L412.3,269.8 L409.3,267.5 L406.7,264.6 L404.5,260.9 L402.7,256.2 L401.2,251 L399.7,245.4 L398.3,239.8 L396.6,234.4 L394.5,229.4 L391.9,225.3 L388.5,221.8 L384.4,218.8 L380,216.1 L375.4,213.8 L370.9,211.8 L366.8,210.1 L363.4,208.7 L360.9,207.5 L360.7,207.9 L363.1,209.2 L366.5,210.8 L370.5,212.6 L374.9,214.7 L379.4,217 L383.8,219.8 L387.6,222.8 L390.7,226.1 L393.1,230.1 L395,234.9 L396.6,240.2 L397.9,245.8 L399.2,251.5 L400.7,256.9 L402.5,261.8 L404.7,266 L407.6,269.3 L410.9,271.9 L414.4,274 L417.9,275.8 L421.4,277.4 L424.7,279 L427.5,280.7 L429.7,282.7 L431.6,285.1 L433.3,287.9 L434.8,290.9 L436.2,294 L437.3,297 L438.2,299.7 L439.1,302.1 L439.8,303.8Z"/><path d="M441,305.5 L442.1,305.7 L443.5,305.9 L445.2,306.2 L447.1,306.6 L449,307 L451,307.4 L452.8,307.9 L454.5,308.3 L456.2,308.8 L457.9,309.3 L459.7,309.9 L461.5,310.4 L463.1,311 L464.6,311.5 L465.9,311.9 L466.8,312.1 L467,311.9 L466.1,311.3 L465,310.7 L463.6,309.9 L462.1,309.1 L460.4,308.2 L458.8,307.3 L457.1,306.5 L455.5,305.7 L453.8,305 L452,304.2 L450.1,303.5 L448.2,302.8 L446.4,302.1 L444.7,301.5 L443.4,300.9 L442.4,300.5Z"/><path d="M439.8,301.2 L439.1,302.1 L438.2,303.3 L437,304.8 L435.7,306.4 L434.3,308.1 L433,309.8 L431.8,311.6 L430.8,313.3 L430,315 L429.4,316.9 L428.8,318.8 L428.3,320.6 L427.9,322.4 L427.6,324 L427.3,325.3 L427.2,326.4 L427.4,326.4 L427.9,325.5 L428.5,324.3 L429.1,322.8 L429.8,321.1 L430.5,319.4 L431.3,317.7 L432.2,316.1 L433.2,314.7 L434.3,313.4 L435.6,312 L437.1,310.5 L438.6,309.1 L440.1,307.7 L441.5,306.5 L442.7,305.5 L443.6,304.8Z"/><path d="M433.2,231.6 L432.3,230.5 L431.3,229 L430.1,227.1 L428.7,225 L427.3,222.8 L425.9,220.7 L424.4,218.8 L423.1,217.2 L421.7,215.8 L420.3,214.5 L418.8,213.3 L417.4,212.2 L416,211.3 L414.8,210.5 L413.8,209.9 L413,209.4 L412.8,209.6 L413.4,210.3 L414.3,211.2 L415.3,212.3 L416.4,213.4 L417.6,214.6 L418.8,216 L419.9,217.4 L420.9,218.8 L421.9,220.5 L423,222.5 L424.2,224.7 L425.3,227 L426.4,229.2 L427.3,231.2 L428.1,232.9 L428.6,234.2Z"/><path d="M431.8,235.3 L432.6,234.9 L433.7,234.3 L435,233.6 L436.4,232.9 L437.9,232.2 L439.4,231.5 L440.9,230.9 L442.3,230.3 L443.8,229.9 L445.4,229.5 L447.2,229.1 L448.9,228.8 L450.6,228.5 L452.1,228.2 L453.4,227.9 L454.3,227.6 L454.3,227.4 L453.3,227.3 L452,227.3 L450.5,227.2 L448.8,227.2 L447,227.3 L445.1,227.4 L443.4,227.5 L441.7,227.7 L440.1,227.9 L438.4,228.3 L436.6,228.7 L435,229.2 L433.4,229.6 L432,230 L430.9,230.3 L430,230.5Z"/><path d="M428.3,232.6 L428.3,234 L428.3,235.8 L428.2,237.9 L428.1,240.3 L428,242.8 L427.8,245.3 L427.7,247.7 L427.6,249.8 L427.6,252 L427.5,254.2 L427.4,256.4 L427.3,258.6 L427.2,260.7 L427.1,262.5 L427.1,264.1 L427.2,265.3 L427.4,265.3 L427.7,264.2 L428.1,262.6 L428.4,260.8 L428.8,258.8 L429.2,256.6 L429.6,254.4 L430,252.2 L430.4,250.2 L430.8,248 L431.2,245.6 L431.6,243.2 L432,240.7 L432.4,238.4 L432.8,236.3 L433.2,234.5 L433.5,233.2Z"/><path d="M384.8,303.6 L384.9,302.5 L385.1,301.1 L385.4,299.4 L385.6,297.5 L386,295.6 L386.4,293.7 L386.8,292 L387.2,290.6 L387.8,289.3 L388.6,288 L389.4,286.7 L390.3,285.5 L391.2,284.3 L392.1,283.2 L392.7,282.3 L393.2,281.6 L393,281.4 L392.3,281.9 L391.4,282.6 L390.4,283.4 L389.2,284.4 L388,285.5 L386.9,286.7 L385.7,288 L384.8,289.4 L383.9,290.9 L383.1,292.7 L382.4,294.6 L381.8,296.6 L381.2,298.4 L380.6,300 L380.2,301.4 L379.8,302.4Z"/><path d="M383.2,300.6 L381.9,300.2 L380,299.6 L377.9,298.9 L375.4,298.1 L372.8,297.3 L370.2,296.6 L367.6,296 L365.2,295.6 L362.8,295.6 L360.4,295.7 L357.9,295.9 L355.5,296.2 L353.2,296.6 L351.2,297 L349.5,297.3 L348.2,297.6 L348.2,297.8 L349.5,297.9 L351.3,297.9 L353.3,297.8 L355.6,297.7 L358,297.7 L360.4,297.8 L362.7,298 L364.8,298.4 L366.9,299 L369.2,299.8 L371.6,300.8 L374,301.8 L376.3,302.9 L378.3,303.9 L380.1,304.8 L381.4,305.4Z"/><path d="M380.4,304.8 L381.3,305.5 L382.4,306.3 L383.6,307.4 L385,308.5 L386.3,309.8 L387.6,311.1 L388.8,312.4 L389.8,313.7 L390.6,315.1 L391.4,316.8 L392.1,318.6 L392.8,320.5 L393.3,322.3 L393.9,324 L394.3,325.4 L394.8,326.4 L395,326.4 L394.9,325.3 L394.8,323.8 L394.5,322.1 L394.2,320.1 L393.9,318.1 L393.4,316.1 L392.9,314.1 L392.2,312.3 L391.3,310.7 L390.3,309 L389.1,307.3 L387.8,305.8 L386.7,304.4 L385.6,303.1 L384.8,302 L384.2,301.2Z"/><path d="M430.5,179.6 L430,179.8 L429.3,180.1 L428.4,180.4 L427.4,180.8 L426.4,181.1 L425.4,181.5 L424.5,181.9 L423.7,182.4 L423,182.8 L422.4,183.4 L421.8,183.9 L421.3,184.4 L420.9,184.9 L420.5,185.4 L420.2,185.8 L420,186.1 L420.2,186.3 L420.5,186.1 L420.9,185.8 L421.4,185.4 L421.9,185 L422.5,184.6 L423.1,184.3 L423.7,183.9 L424.3,183.6 L425.1,183.4 L425.9,183.1 L426.9,182.9 L428,182.6 L429,182.4 L429.9,182.2 L430.7,182.1 L431.3,182Z"/><path d="M338.3,353.2 L338.4,352.6 L338.5,351.8 L338.7,351 L338.9,350.1 L339.1,349.1 L339.4,348.2 L339.8,347.4 L340.2,346.6 L340.8,345.9 L341.7,345 L342.7,344.2 L343.7,343.4 L344.8,342.6 L345.7,341.9 L346.5,341.3 L347.1,340.8 L346.9,340.6 L346.3,340.9 L345.4,341.3 L344.3,341.9 L343.1,342.5 L341.9,343.2 L340.8,343.9 L339.7,344.6 L338.8,345.4 L338,346.3 L337.4,347.2 L336.9,348.2 L336.4,349.2 L336,350.1 L335.6,351 L335.4,351.6 L335.1,352Z"/><path d="M406.2,364.4 L405.8,363.7 L405.3,362.7 L404.8,361.4 L404.2,360.1 L403.6,358.7 L403,357.3 L402.4,355.9 L401.9,354.7 L401.4,353.5 L400.9,352.3 L400.4,351.1 L400,349.9 L399.6,348.8 L399.2,347.8 L398.8,347 L398.5,346.4 L398.3,346.4 L398.4,347.1 L398.5,348 L398.7,349.1 L399,350.2 L399.2,351.5 L399.5,352.8 L399.8,354.1 L400.1,355.3 L400.5,356.6 L400.9,358 L401.3,359.5 L401.7,361 L402.1,362.4 L402.5,363.7 L402.8,364.8 L403,365.6Z"/><path d="M460.5,363.2 L460.3,362.6 L460.2,361.7 L460,360.7 L459.8,359.5 L459.5,358.3 L459.3,357.1 L459.1,355.9 L458.9,354.9 L458.7,353.9 L458.5,352.9 L458.3,351.9 L458.1,350.9 L457.9,349.9 L457.8,349.1 L457.6,348.4 L457.4,347.9 L457.2,347.9 L457.1,348.5 L457.1,349.2 L457.1,350 L457.1,351 L457.1,352 L457.1,353 L457.1,354.1 L457.1,355.1 L457.1,356.1 L457.1,357.3 L457.1,358.5 L457.1,359.8 L457.2,360.9 L457.2,362 L457.1,362.9 L457.1,363.6Z"/><path d="M315.2,348 L315.1,344.3 L315.1,339.4 L315,333.6 L314.9,327.1 L314.8,320.2 L314.7,313.3 L314.6,306.4 L314.5,300 L314.5,293.8 L314.5,287.6 L314.6,281.4 L314.6,275.1 L314.6,268.8 L314.7,262.6 L314.7,256.3 L314.7,250 L314.7,243.6 L314.7,237.1 L314.7,230.5 L314.7,224 L314.7,217.6 L314.7,211.4 L314.7,205.5 L314.7,200 L314.8,194.8 L314.8,189.7 L314.9,184.7 L314.9,180.1 L315,175.8 L315,172.1 L315.1,168.9 L315.1,166.4 L313.9,166.4 L313.8,168.9 L313.8,172 L313.7,175.8 L313.6,180.1 L313.5,184.7 L313.4,189.6 L313.3,194.8 L313.3,200 L313.2,205.5 L313.1,211.3 L313.1,217.5 L313.1,224 L313,230.5 L313,237.1 L312.9,243.6 L312.9,250 L312.8,256.3 L312.8,262.5 L312.7,268.8 L312.6,275.1 L312.6,281.4 L312.5,287.6 L312.5,293.8 L312.5,300 L312.5,306.4 L312.5,313.3 L312.5,320.3 L312.6,327.1 L312.7,333.6 L312.7,339.4 L312.8,344.3 L312.8,348Z"/></g></g></g>
<rect x="254" y="98" width="121.5" height="66" fill="none" stroke="#111" stroke-width="1.2"/>
<path d="M419.3,121.2 L420.1,121.1 L421.1,120.9 L422,120.7 L423.1,120.6 L424.3,120.4 L425.6,120.2 L427,119.9 L428.5,119.7 L430,119.5 L431.6,119.3 L433.2,119.2 L434.9,119 L436.7,118.9 L438.6,118.8 L440.6,118.6 L442.6,118.5 L444.8,118.4 L446.9,118.3 L449.1,118.2 L451.3,118.2 L453.4,118.1 L455.5,118.1 L457.5,118.1 L459.4,118.1 L461.3,118.2 L463,118.2 L464.6,118.3 L466.2,118.3 L467.8,118.4 L469.4,118.5 L470.9,118.7 L472.6,118.8 L474.3,119 L476.2,119.3 L478.1,119.5 L480.2,119.8 L482.5,120.2 L484.9,120.6 L487.5,121 L490.1,121.4 L492.8,121.8 L495.6,122.3 L498.4,122.9 L501.3,123.5 L504.1,124.1 L507,124.8 L509.8,125.6 L512.5,126.4 L515.3,127.3 L518,128.3 L520.7,129.3 L523.4,130.4 L526.1,131.5 L528.8,132.7 L531.6,133.9 L534.3,135.1 L537,136.4 L539.7,137.7 L542.4,139.1 L545.1,140.4 L547.9,141.8 L550.7,143.3 L553.5,144.8 L556.4,146.3 L559.2,147.8 L562,149.3 L564.8,150.9 L567.5,152.5 L570.2,154.1 L572.7,155.7 L575.2,157.2 L577.5,158.8 L579.7,160.3 L581.8,161.8 L583.8,163.3 L585.6,164.8 L587.4,166.3 L589.2,167.8 L590.9,169.4 L592.6,170.9 L594.3,172.5 L596,174.1 L597.7,175.7 L599.5,177.4 L601.2,179.1 L603.1,180.8 L604.9,182.5 L606.7,184.3 L608.5,186.1 L610.4,188 L612.2,189.8 L614,191.7 L615.8,193.6 L617.5,195.6 L619.3,197.5 L621,199.5 L622.7,201.6 L624.4,203.6 L626,205.7 L627.7,207.8 L629.3,209.9 L631,212 L632.5,214.2 L634.1,216.4 L635.6,218.7 L637.1,220.9 L638.5,223.2 L639.9,225.6 L641.3,227.9 L642.6,230.4 L643.9,232.8 L645.1,235.3 L646.3,237.8 L647.4,240.4 L648.5,242.9 L649.6,245.5 L650.7,248 L651.7,250.6 L652.7,253.1 L653.6,255.7 L654.6,258.2 L655.4,260.7 L656.3,263.3 L657.1,265.8 L657.9,268.3 L658.6,270.9 L659.4,273.4 L660.1,275.9 L660.7,278.4 L661.4,280.9 L662,283.5 L662.7,285.9 L663.3,288.4 L663.9,290.8 L664.5,293.2 L665,295.6 L665.5,297.9 L666.1,300.3 L666.5,302.8 L667,305.3 L667.5,307.9 L667.9,310.6 L668.4,313.5 L668.8,316.5 L669.2,319.6 L669.6,323 L669.9,326.5 L670.3,330.1 L670.6,333.8 L670.9,337.5 L671.2,341.3 L671.5,345.1 L671.8,348.9 L672,352.6 L672.3,356.3 L672.5,359.9 L672.7,363.4 L672.9,366.8 L673,370.2 L673.2,373.5 L673.3,376.8 L673.4,380.1 L673.5,383.4 L673.6,386.7 L673.7,390 L673.8,393.3 L673.9,396.7 L674,400.1 L674.1,403.5 L674.2,406.9 L674.2,410.4 L674.3,413.9 L674.4,417.4 L674.4,420.9 L674.5,424.4 L674.5,427.9 L674.5,431.4 L674.6,434.8 L674.6,438.2 L674.6,441.5 L674.6,444.8 L674.6,448.1 L674.6,451.3 L674.6,454.5 L674.7,457.6 L674.6,460.8 L674.6,463.9 L674.6,467.1 L674.5,470.2 L674.5,473.4 L674.4,476.6 L674.3,479.9 L674.1,483.2 L673.9,486.6 L673.7,490 L673.5,493.5 L673.3,496.9 L673.1,500.4 L672.8,503.8 L672.5,507.2 L672.3,510.5 L672,513.7 L671.8,516.8 L671.5,519.8 L671.3,522.6 L671.1,525.2 L670.8,527.8 L670.6,530.2 L670.4,532.6 L670.2,534.9 L670,537.2 L669.7,539.6 L669.4,542.1 L669.1,544.7 L668.8,547.4 L668.4,550.3 L668,553.4 L667.6,556.6 L667.1,560.1 L666.6,563.6 L666.1,567.2 L665.5,570.8 L665,574.5 L664.4,578.1 L663.8,581.7 L663.3,585.1 L662.7,588.4 L662.2,591.7 L661.7,594.8 L661.1,597.9 L660.6,601 L660,604 L659.5,606.9 L658.9,609.7 L658.4,612.4 L657.9,614.8 L657.5,617.1 L657.1,619.2 L656.7,621 L656.4,622.8 L652.5,638.4 L687.4,650.7 L621.4,716 L591,626.1 L626.6,629.3 L627.9,622.8 L628.1,621.1 L628.4,619.3 L628.7,617.4 L629,615.2 L629.4,612.8 L629.7,610.3 L630.1,607.5 L630.6,604.6 L631,601.5 L631.5,598.3 L631.9,595 L632.4,591.5 L633,587.7 L633.5,583.7 L634.1,579.5 L634.7,575.1 L635.4,570.5 L636,565.8 L636.6,561.2 L637.3,556.6 L637.9,552.2 L638.4,548 L638.9,544.1 L639.4,540.5 L639.9,537.2 L640.2,534.1 L640.6,531.3 L640.9,528.6 L641.2,526.1 L641.5,523.8 L641.7,521.5 L642,519.2 L642.2,516.9 L642.5,514.7 L642.7,512.3 L643,509.9 L643.3,507.5 L643.6,505.1 L643.9,502.7 L644.2,500.2 L644.5,497.8 L644.8,495.4 L645.1,492.9 L645.4,490.4 L645.6,487.8 L645.9,485.2 L646.1,482.5 L646.4,479.7 L646.6,476.8 L646.8,473.8 L647,470.8 L647.2,467.7 L647.4,464.6 L647.5,461.4 L647.7,458.1 L647.9,454.8 L648,451.6 L648.2,448.2 L648.3,444.9 L648.5,441.6 L648.7,438.2 L648.8,434.8 L649,431.4 L649.1,427.9 L649.3,424.4 L649.4,420.9 L649.6,417.4 L649.7,413.9 L649.9,410.4 L650,406.9 L650.1,403.5 L650.2,400 L650.3,396.5 L650.4,393.1 L650.4,389.6 L650.5,386.1 L650.5,382.7 L650.6,379.3 L650.6,375.9 L650.6,372.6 L650.6,369.3 L650.6,366.2 L650.6,363.1 L650.6,360.2 L650.6,357.4 L650.5,354.8 L650.5,352.2 L650.4,349.8 L650.3,347.4 L650.2,345.1 L650.1,342.8 L650,340.6 L649.8,338.3 L649.6,336 L649.3,333.6 L649,331.2 L648.7,328.8 L648.3,326.3 L647.9,323.7 L647.5,321.2 L647,318.6 L646.5,316.1 L645.9,313.5 L645.4,311 L644.8,308.4 L644.2,305.9 L643.6,303.5 L643,301.1 L642.3,298.7 L641.7,296.4 L641,294.1 L640.4,291.9 L639.7,289.7 L638.9,287.4 L638.2,285.2 L637.4,283 L636.6,280.8 L635.7,278.5 L634.9,276.2 L633.9,273.8 L633,271.4 L632,269 L631,266.5 L629.9,264 L628.8,261.5 L627.7,259 L626.6,256.4 L625.4,253.9 L624.2,251.3 L622.9,248.8 L621.6,246.2 L620.3,243.7 L618.9,241.1 L617.5,238.4 L616,235.8 L614.5,233.1 L612.9,230.4 L611.4,227.8 L609.8,225.2 L608.2,222.6 L606.7,220.2 L605.2,217.9 L603.8,215.7 L602.4,213.7 L601.2,211.8 L599.9,210.1 L598.8,208.5 L597.7,207.1 L596.7,205.8 L595.6,204.5 L594.5,203.2 L593.4,202 L592.3,200.8 L591.1,199.5 L589.8,198.1 L588.3,196.7 L586.8,195.2 L585.2,193.6 L583.5,192 L581.8,190.3 L580,188.7 L578.1,187 L576.2,185.3 L574.3,183.6 L572.4,182 L570.5,180.4 L568.7,178.9 L566.9,177.4 L565.1,176 L563.4,174.6 L561.7,173.3 L560,172 L558.3,170.8 L556.6,169.6 L554.8,168.4 L553,167.1 L551.1,165.9 L549.2,164.7 L547.1,163.4 L544.9,162 L542.6,160.6 L540.1,159.2 L537.6,157.8 L535,156.3 L532.2,154.8 L529.5,153.3 L526.7,151.8 L523.8,150.3 L521,148.9 L518.2,147.4 L515.4,146.1 L512.6,144.8 L509.8,143.5 L507,142.2 L504.1,141 L501.3,139.8 L498.4,138.7 L495.6,137.5 L492.8,136.4 L490.1,135.4 L487.5,134.4 L484.9,133.5 L482.5,132.6 L480.2,131.8 L478.1,131.1 L476.2,130.4 L474.3,129.8 L472.6,129.3 L470.9,128.8 L469.4,128.3 L467.8,127.9 L466.2,127.6 L464.6,127.2 L463,126.8 L461.3,126.5 L459.4,126.1 L457.5,125.8 L455.5,125.4 L453.4,125.1 L451.3,124.8 L449.1,124.5 L446.9,124.2 L444.8,123.9 L442.6,123.6 L440.6,123.4 L438.6,123.1 L436.7,122.9 L434.9,122.7 L433.2,122.5 L431.6,122.3 L430,122.2 L428.5,122 L427,121.9 L425.6,121.8 L424.3,121.6 L423.1,121.5 L422,121.4 L421.1,121.4 L420.1,121.3 L419.3,121.2Z" fill="#2E3192"/>
<path d="M820.5,1268 L926,1125.6 L926,977 C925.9,977.2 928.3,974.2 925.5,978 C922.7,981.8 914.5,992.4 909.3,1000 C904,1007.6 898.6,1016.5 894,1023.7 C889.4,1030.9 885.1,1038 881.4,1043.3 C877.7,1048.6 876.7,1050 871.6,1055.8 C866.5,1061.6 856.8,1071 850.7,1078 C844.7,1085 840.4,1089.8 835.3,1097.7 C830.2,1105.6 822.5,1120.9 820,1125.6 L820.5,1268 Z" fill="url(#gSide)"/>
<clipPath id="cpSide"><path d="M820.5,1268 L926,1125.6 L926,977 C925.9,977.2 928.3,974.2 925.5,978 C922.7,981.8 914.5,992.4 909.3,1000 C904,1007.6 898.6,1016.5 894,1023.7 C889.4,1030.9 885.1,1038 881.4,1043.3 C877.7,1048.6 876.7,1050 871.6,1055.8 C866.5,1061.6 856.8,1071 850.7,1078 C844.7,1085 840.4,1089.8 835.3,1097.7 C830.2,1105.6 822.5,1120.9 820,1125.6 L820.5,1268 Z"/></clipPath>
<g clip-path="url(#cpSide)"><path d="M926,1018 C921.6,1021.5 905.5,1032.7 899.5,1039 C893.5,1045.3 892.1,1049.8 889.8,1055.8 C887.5,1061.8 886.8,1069.5 885.6,1075.3 C884.4,1081.1 885.1,1087.4 882.8,1090.7 C880.5,1094 875.8,1093.3 871.6,1094.9 C867.4,1096.5 862.8,1097.2 857.7,1100.5 C852.6,1103.8 846.1,1108.8 841,1114.4 C835.9,1120 830.3,1127.5 827,1134 C823.7,1140.5 822.5,1148.8 821.4,1153.5 C820.3,1158.2 820.6,1160.6 820.5,1162 L820.5,1268 L926,1125.6 L926,1018 Z" fill="url(#gSideWM)" filter="url(#fBlur1)"/></g>
<clipPath id="cpL"><path d="M66,988 L94,966 L387,930 L376.5,1197 L367.2,1197.5 L367.7,1186.3 L360.2,1194.7 L66.8,1149Z"/></clipPath>
<clipPath id="cpR"><path d="M430,955 L821,1020 L821,1268 L439.3,1207.7 L443,1192 L430,1206.7Z"/></clipPath>
<path d="M66,988 L94,966 L387,930 L376.5,1197 L367.2,1197.5 L367.7,1186.3 L360.2,1194.7 L66.8,1149Z" fill="#754B26"/>
<path d="M430,955 L821,1020 L821,1268 L439.3,1207.7 L443,1192 L430,1206.7Z" fill="#754B26"/>
<g clip-path="url(#cpL)"><path d="M66.8,1149 L67.7,1009.4 C71.1,1009.2 81.1,1007.6 87.9,1008 C94.8,1008.4 102.3,1009.8 108.8,1011.5 C115.3,1013.2 121.7,1015.9 127,1018.5 C132.3,1021.1 138.6,1025.5 140.9,1026.9 C141.8,1025.3 143.7,1020.6 146.5,1017.1 C149.3,1013.6 153.5,1008.5 157.7,1005.9 C161.9,1003.3 166.9,1002.1 171.6,1001.7 C176.2,1001.4 180.9,1002.4 185.6,1003.8 C190.2,1005.2 195.3,1007.7 199.5,1010.1 C203.7,1012.5 209.1,1016.7 211,1018 C213.1,1015.6 218.9,1007.3 223.7,1003.7 C228.5,1000.1 234.3,997.9 239.6,996.6 C244.9,995.3 250.1,994.6 255.4,995.8 C260.7,997 267,1000.5 271.2,1003.7 C275.4,1006.9 278.3,1011.9 280.7,1014.8 C283.1,1017.7 284.7,1020.1 285.5,1021.2 C287.6,1021.5 293.4,1021.7 298.1,1022.7 C302.9,1023.8 309.5,1024.8 314,1027.5 C318.5,1030.2 322.1,1034.1 325,1038.6 C327.9,1043.1 330.3,1048.9 331.4,1054.4 C332.5,1059.9 332.2,1066.3 331.4,1071.8 C330.6,1077.3 328.5,1082.8 326.6,1087.6 C324.8,1092.3 322.2,1097.1 320.3,1100.3 C318.4,1103.5 316.3,1105.5 315.5,1106.6 C317.4,1107.7 323.4,1110.4 326.6,1113 C329.8,1115.6 332.6,1118.2 334.5,1122.4 C336.4,1126.6 337.4,1133 337.7,1138.3 C338,1143.6 337.2,1148.8 336.1,1154.1 C335.1,1159.4 333.5,1165.4 331.4,1169.9 C329.3,1174.4 326.1,1178 323.5,1181 C320.9,1184 317.2,1186.8 316,1188 Z" fill="none" stroke="#5A3616" stroke-width="6" filter="url(#fBlur2)" opacity="0.55"/><path d="M66.8,1149 L67.7,1009.4 C71.1,1009.2 81.1,1007.6 87.9,1008 C94.8,1008.4 102.3,1009.8 108.8,1011.5 C115.3,1013.2 121.7,1015.9 127,1018.5 C132.3,1021.1 138.6,1025.5 140.9,1026.9 C141.8,1025.3 143.7,1020.6 146.5,1017.1 C149.3,1013.6 153.5,1008.5 157.7,1005.9 C161.9,1003.3 166.9,1002.1 171.6,1001.7 C176.2,1001.4 180.9,1002.4 185.6,1003.8 C190.2,1005.2 195.3,1007.7 199.5,1010.1 C203.7,1012.5 209.1,1016.7 211,1018 C213.1,1015.6 218.9,1007.3 223.7,1003.7 C228.5,1000.1 234.3,997.9 239.6,996.6 C244.9,995.3 250.1,994.6 255.4,995.8 C260.7,997 267,1000.5 271.2,1003.7 C275.4,1006.9 278.3,1011.9 280.7,1014.8 C283.1,1017.7 284.7,1020.1 285.5,1021.2 C287.6,1021.5 293.4,1021.7 298.1,1022.7 C302.9,1023.8 309.5,1024.8 314,1027.5 C318.5,1030.2 322.1,1034.1 325,1038.6 C327.9,1043.1 330.3,1048.9 331.4,1054.4 C332.5,1059.9 332.2,1066.3 331.4,1071.8 C330.6,1077.3 328.5,1082.8 326.6,1087.6 C324.8,1092.3 322.2,1097.1 320.3,1100.3 C318.4,1103.5 316.3,1105.5 315.5,1106.6 C317.4,1107.7 323.4,1110.4 326.6,1113 C329.8,1115.6 332.6,1118.2 334.5,1122.4 C336.4,1126.6 337.4,1133 337.7,1138.3 C338,1143.6 337.2,1148.8 336.1,1154.1 C335.1,1159.4 333.5,1165.4 331.4,1169.9 C329.3,1174.4 326.1,1178 323.5,1181 C320.9,1184 317.2,1186.8 316,1188 Z" fill="#C69B6B" filter="url(#fBlur1)"/><clipPath id="cpLin"><path d="M66.8,1149 L67.7,1009.4 C71.1,1009.2 81.1,1007.6 87.9,1008 C94.8,1008.4 102.3,1009.8 108.8,1011.5 C115.3,1013.2 121.7,1015.9 127,1018.5 C132.3,1021.1 138.6,1025.5 140.9,1026.9 C141.8,1025.3 143.7,1020.6 146.5,1017.1 C149.3,1013.6 153.5,1008.5 157.7,1005.9 C161.9,1003.3 166.9,1002.1 171.6,1001.7 C176.2,1001.4 180.9,1002.4 185.6,1003.8 C190.2,1005.2 195.3,1007.7 199.5,1010.1 C203.7,1012.5 209.1,1016.7 211,1018 C213.1,1015.6 218.9,1007.3 223.7,1003.7 C228.5,1000.1 234.3,997.9 239.6,996.6 C244.9,995.3 250.1,994.6 255.4,995.8 C260.7,997 267,1000.5 271.2,1003.7 C275.4,1006.9 278.3,1011.9 280.7,1014.8 C283.1,1017.7 284.7,1020.1 285.5,1021.2 C287.6,1021.5 293.4,1021.7 298.1,1022.7 C302.9,1023.8 309.5,1024.8 314,1027.5 C318.5,1030.2 322.1,1034.1 325,1038.6 C327.9,1043.1 330.3,1048.9 331.4,1054.4 C332.5,1059.9 332.2,1066.3 331.4,1071.8 C330.6,1077.3 328.5,1082.8 326.6,1087.6 C324.8,1092.3 322.2,1097.1 320.3,1100.3 C318.4,1103.5 316.3,1105.5 315.5,1106.6 C317.4,1107.7 323.4,1110.4 326.6,1113 C329.8,1115.6 332.6,1118.2 334.5,1122.4 C336.4,1126.6 337.4,1133 337.7,1138.3 C338,1143.6 337.2,1148.8 336.1,1154.1 C335.1,1159.4 333.5,1165.4 331.4,1169.9 C329.3,1174.4 326.1,1178 323.5,1181 C320.9,1184 317.2,1186.8 316,1188 Z"/></clipPath><path d="M66.8,1149 L67.7,1009.4 C71.1,1009.2 81.1,1007.6 87.9,1008 C94.8,1008.4 102.3,1009.8 108.8,1011.5 C115.3,1013.2 121.7,1015.9 127,1018.5 C132.3,1021.1 138.6,1025.5 140.9,1026.9 C141.8,1025.3 143.7,1020.6 146.5,1017.1 C149.3,1013.6 153.5,1008.5 157.7,1005.9 C161.9,1003.3 166.9,1002.1 171.6,1001.7 C176.2,1001.4 180.9,1002.4 185.6,1003.8 C190.2,1005.2 195.3,1007.7 199.5,1010.1 C203.7,1012.5 209.1,1016.7 211,1018 C213.1,1015.6 218.9,1007.3 223.7,1003.7 C228.5,1000.1 234.3,997.9 239.6,996.6 C244.9,995.3 250.1,994.6 255.4,995.8 C260.7,997 267,1000.5 271.2,1003.7 C275.4,1006.9 278.3,1011.9 280.7,1014.8 C283.1,1017.7 284.7,1020.1 285.5,1021.2 C287.6,1021.5 293.4,1021.7 298.1,1022.7 C302.9,1023.8 309.5,1024.8 314,1027.5 C318.5,1030.2 322.1,1034.1 325,1038.6 C327.9,1043.1 330.3,1048.9 331.4,1054.4 C332.5,1059.9 332.2,1066.3 331.4,1071.8 C330.6,1077.3 328.5,1082.8 326.6,1087.6 C324.8,1092.3 322.2,1097.1 320.3,1100.3 C318.4,1103.5 316.3,1105.5 315.5,1106.6 C317.4,1107.7 323.4,1110.4 326.6,1113 C329.8,1115.6 332.6,1118.2 334.5,1122.4 C336.4,1126.6 337.4,1133 337.7,1138.3 C338,1143.6 337.2,1148.8 336.1,1154.1 C335.1,1159.4 333.5,1165.4 331.4,1169.9 C329.3,1174.4 326.1,1178 323.5,1181 C320.9,1184 317.2,1186.8 316,1188 Z" fill="none" stroke="#D8B080" stroke-width="5" filter="url(#fBlur2)" opacity="0.45" clip-path="url(#cpLin)"/></g>
<g clip-path="url(#cpR)"><path d="M821,1268 L475.5,1210 L480.2,1201.4 C479.4,1199.1 476.7,1193.1 475.5,1187.4 C474.3,1181.7 473.2,1173.2 473.2,1167.3 C473.2,1161.4 473.8,1157.2 475.5,1151.8 C477.2,1146.4 480.4,1139.1 483.3,1134.7 C486.2,1130.3 491.1,1127 492.6,1125.4 C491.6,1123.6 488.5,1118.7 486.4,1114.6 C484.3,1110.5 481.6,1105.5 480.2,1100.6 C478.8,1095.7 477.6,1090.3 477.8,1085.1 C478.1,1079.9 479.5,1074.2 481.7,1069.6 C483.9,1064.9 486.9,1060.3 491,1057.2 C495.1,1054.1 501.3,1052.2 506.5,1051 C511.7,1049.8 517.9,1050.2 522,1050.2 C526.1,1050.2 529.8,1050.9 531.3,1051 C532.3,1050.2 533.9,1048.5 537.5,1046.4 C541.1,1044.3 547.3,1040.5 553,1038.6 C558.7,1036.6 565.1,1035 571.6,1034.7 C578.1,1034.4 585.3,1034.8 591.8,1037 C598.3,1039.2 605.2,1043 610.4,1047.9 C615.6,1052.8 620,1061.1 622.8,1066.5 C625.6,1071.9 626.5,1077.8 627.3,1080.1 C630.1,1079.4 637.5,1076.4 644.4,1076 C651.3,1075.6 661.2,1075.8 668.8,1077.7 C676.4,1079.6 683.8,1083.6 690,1087.4 C696.2,1091.2 701.7,1095.9 706.3,1100.5 C710.9,1105.1 714.6,1111.2 717.7,1115.1 C720.8,1119 723.8,1122.6 725,1124.1 C727.9,1123.7 735.2,1121.5 742.1,1121.6 C749,1121.7 758.9,1123.3 766.5,1124.9 C774.1,1126.5 781.5,1128.4 787.7,1131.4 C794,1134.4 799.4,1139 804,1142.8 C808.6,1146.6 812.5,1150.7 815.3,1154.2 C818.1,1157.7 819.7,1162.4 820.6,1164 Z" fill="none" stroke="#5A3616" stroke-width="6" filter="url(#fBlur2)" opacity="0.55"/><path d="M821,1268 L475.5,1210 L480.2,1201.4 C479.4,1199.1 476.7,1193.1 475.5,1187.4 C474.3,1181.7 473.2,1173.2 473.2,1167.3 C473.2,1161.4 473.8,1157.2 475.5,1151.8 C477.2,1146.4 480.4,1139.1 483.3,1134.7 C486.2,1130.3 491.1,1127 492.6,1125.4 C491.6,1123.6 488.5,1118.7 486.4,1114.6 C484.3,1110.5 481.6,1105.5 480.2,1100.6 C478.8,1095.7 477.6,1090.3 477.8,1085.1 C478.1,1079.9 479.5,1074.2 481.7,1069.6 C483.9,1064.9 486.9,1060.3 491,1057.2 C495.1,1054.1 501.3,1052.2 506.5,1051 C511.7,1049.8 517.9,1050.2 522,1050.2 C526.1,1050.2 529.8,1050.9 531.3,1051 C532.3,1050.2 533.9,1048.5 537.5,1046.4 C541.1,1044.3 547.3,1040.5 553,1038.6 C558.7,1036.6 565.1,1035 571.6,1034.7 C578.1,1034.4 585.3,1034.8 591.8,1037 C598.3,1039.2 605.2,1043 610.4,1047.9 C615.6,1052.8 620,1061.1 622.8,1066.5 C625.6,1071.9 626.5,1077.8 627.3,1080.1 C630.1,1079.4 637.5,1076.4 644.4,1076 C651.3,1075.6 661.2,1075.8 668.8,1077.7 C676.4,1079.6 683.8,1083.6 690,1087.4 C696.2,1091.2 701.7,1095.9 706.3,1100.5 C710.9,1105.1 714.6,1111.2 717.7,1115.1 C720.8,1119 723.8,1122.6 725,1124.1 C727.9,1123.7 735.2,1121.5 742.1,1121.6 C749,1121.7 758.9,1123.3 766.5,1124.9 C774.1,1126.5 781.5,1128.4 787.7,1131.4 C794,1134.4 799.4,1139 804,1142.8 C808.6,1146.6 812.5,1150.7 815.3,1154.2 C818.1,1157.7 819.7,1162.4 820.6,1164 Z" fill="#C69B6B" filter="url(#fBlur1)"/><clipPath id="cpRin"><path d="M821,1268 L475.5,1210 L480.2,1201.4 C479.4,1199.1 476.7,1193.1 475.5,1187.4 C474.3,1181.7 473.2,1173.2 473.2,1167.3 C473.2,1161.4 473.8,1157.2 475.5,1151.8 C477.2,1146.4 480.4,1139.1 483.3,1134.7 C486.2,1130.3 491.1,1127 492.6,1125.4 C491.6,1123.6 488.5,1118.7 486.4,1114.6 C484.3,1110.5 481.6,1105.5 480.2,1100.6 C478.8,1095.7 477.6,1090.3 477.8,1085.1 C478.1,1079.9 479.5,1074.2 481.7,1069.6 C483.9,1064.9 486.9,1060.3 491,1057.2 C495.1,1054.1 501.3,1052.2 506.5,1051 C511.7,1049.8 517.9,1050.2 522,1050.2 C526.1,1050.2 529.8,1050.9 531.3,1051 C532.3,1050.2 533.9,1048.5 537.5,1046.4 C541.1,1044.3 547.3,1040.5 553,1038.6 C558.7,1036.6 565.1,1035 571.6,1034.7 C578.1,1034.4 585.3,1034.8 591.8,1037 C598.3,1039.2 605.2,1043 610.4,1047.9 C615.6,1052.8 620,1061.1 622.8,1066.5 C625.6,1071.9 626.5,1077.8 627.3,1080.1 C630.1,1079.4 637.5,1076.4 644.4,1076 C651.3,1075.6 661.2,1075.8 668.8,1077.7 C676.4,1079.6 683.8,1083.6 690,1087.4 C696.2,1091.2 701.7,1095.9 706.3,1100.5 C710.9,1105.1 714.6,1111.2 717.7,1115.1 C720.8,1119 723.8,1122.6 725,1124.1 C727.9,1123.7 735.2,1121.5 742.1,1121.6 C749,1121.7 758.9,1123.3 766.5,1124.9 C774.1,1126.5 781.5,1128.4 787.7,1131.4 C794,1134.4 799.4,1139 804,1142.8 C808.6,1146.6 812.5,1150.7 815.3,1154.2 C818.1,1157.7 819.7,1162.4 820.6,1164 Z"/></clipPath><path d="M821,1268 L475.5,1210 L480.2,1201.4 C479.4,1199.1 476.7,1193.1 475.5,1187.4 C474.3,1181.7 473.2,1173.2 473.2,1167.3 C473.2,1161.4 473.8,1157.2 475.5,1151.8 C477.2,1146.4 480.4,1139.1 483.3,1134.7 C486.2,1130.3 491.1,1127 492.6,1125.4 C491.6,1123.6 488.5,1118.7 486.4,1114.6 C484.3,1110.5 481.6,1105.5 480.2,1100.6 C478.8,1095.7 477.6,1090.3 477.8,1085.1 C478.1,1079.9 479.5,1074.2 481.7,1069.6 C483.9,1064.9 486.9,1060.3 491,1057.2 C495.1,1054.1 501.3,1052.2 506.5,1051 C511.7,1049.8 517.9,1050.2 522,1050.2 C526.1,1050.2 529.8,1050.9 531.3,1051 C532.3,1050.2 533.9,1048.5 537.5,1046.4 C541.1,1044.3 547.3,1040.5 553,1038.6 C558.7,1036.6 565.1,1035 571.6,1034.7 C578.1,1034.4 585.3,1034.8 591.8,1037 C598.3,1039.2 605.2,1043 610.4,1047.9 C615.6,1052.8 620,1061.1 622.8,1066.5 C625.6,1071.9 626.5,1077.8 627.3,1080.1 C630.1,1079.4 637.5,1076.4 644.4,1076 C651.3,1075.6 661.2,1075.8 668.8,1077.7 C676.4,1079.6 683.8,1083.6 690,1087.4 C696.2,1091.2 701.7,1095.9 706.3,1100.5 C710.9,1105.1 714.6,1111.2 717.7,1115.1 C720.8,1119 723.8,1122.6 725,1124.1 C727.9,1123.7 735.2,1121.5 742.1,1121.6 C749,1121.7 758.9,1123.3 766.5,1124.9 C774.1,1126.5 781.5,1128.4 787.7,1131.4 C794,1134.4 799.4,1139 804,1142.8 C808.6,1146.6 812.5,1150.7 815.3,1154.2 C818.1,1157.7 819.7,1162.4 820.6,1164 Z" fill="none" stroke="#D8B080" stroke-width="5" filter="url(#fBlur2)" opacity="0.45" clip-path="url(#cpRin)"/></g>
<g clip-path="url(#cpL)"><path d="M67.9,988.5 C73.1,986.8 87.6,979.8 98.8,978 C110,976.2 128.1,979.2 135.2,978 C142.3,976.8 137.3,973.7 141.4,971 C145.5,968.3 151.6,963 160,961.7 C168.4,960.5 184.8,962.5 191.8,963.5 C198.9,964.5 197.9,968.1 202.3,967.4 C206.7,966.7 211.1,961.7 218.1,959.5 C225.1,957.3 233.5,954.7 244.5,954.3 C255.5,953.9 275.2,956 284,956.9 C292.8,957.8 293.7,958.6 297.2,959.5 C300.7,960.4 300.7,961.5 305.1,962.2 C309.5,962.9 317.9,961.8 323.6,963.5 C329.3,965.2 335,969.1 339.4,972.7 C343.8,976.3 347.2,981.1 350,985 C352.8,988.9 354.6,992.3 356,996 C357.4,999.7 357.6,1002.1 358.4,1007 C359.2,1011.9 360.8,1019.3 361,1025.4 C361.2,1031.6 359.1,1037.3 359.5,1043.9 C359.9,1050.5 362.9,1057.1 363.5,1065 C364.1,1072.9 363.4,1084.7 363,1091.3 C362.6,1097.9 360.8,1098.8 361,1104.5 C361.2,1110.2 363.3,1116.8 364,1125.6 C364.7,1134.4 366,1148.8 365,1157.2 C364,1165.6 358.6,1169.5 357.8,1175.7 C357,1182 359.8,1191.5 360.2,1194.7" fill="none" stroke="#4A2A10" stroke-width="9" opacity="0.45" filter="url(#fBlur4)"/></g>
<g clip-path="url(#cpR)"><path d="M443,1192 C442.4,1189.2 440.4,1180.9 439.3,1175 C438.2,1169.1 436.9,1162.2 436.5,1156.5 C436.1,1150.8 435.3,1147.1 437,1141 C438.7,1134.9 444.9,1128 446.7,1120 C448.5,1112 447.4,1102.9 447.7,1093 C448,1083.1 447.5,1069 448.6,1060.5 C449.7,1052 453.1,1052 454.2,1041.9 C455.3,1031.8 454.6,1008.1 455.1,1000 C455.6,991.9 456.4,994.9 457,993 C457.6,991.1 457.8,990 459,988.6 C460.2,987.2 462.4,985.7 464,984.5 C465.6,983.3 464.5,982.6 468.8,981.6 C473.1,980.6 482.7,978.7 489.8,978.8 C496.9,978.9 504.9,981.2 511.6,982.4 C518.3,983.6 524.6,985.8 530,986 C535.4,986.2 538.5,983.7 544,983.7 C549.5,983.7 555.8,984.5 562.8,986 C569.8,987.5 579,990.3 586,993 C593,995.7 598.9,998.4 604.7,1002.3 C610.5,1006.2 616.8,1012 621,1016.3 C625.2,1020.6 626.2,1025.9 630,1028 C633.8,1030.1 637.8,1028.2 644,1029 C650.2,1029.8 659.6,1030.8 667.4,1032.6 C675.2,1034.3 685.3,1037.8 690.7,1039.5 C696.1,1041.2 696,1040.8 700,1043 C704,1045.2 710.3,1049.2 715,1053 C719.7,1056.8 723.8,1062.3 728,1066 C732.2,1069.7 734.7,1073.2 740,1075 C745.3,1076.8 752,1074.8 760,1076.7 C768,1078.6 780.3,1082.5 788,1086.5 C795.7,1090.5 800.7,1094 806,1100.5 C811.3,1107 817.7,1121.4 820,1125.6" fill="none" stroke="#4A2A10" stroke-width="9" opacity="0.45" filter="url(#fBlur4)"/></g>
<path d="M68,966.5 C81.7,963.5 125,953.6 150,948.5 C175,943.4 196.3,938.1 218,936 C239.7,933.9 262.3,935.2 280,936 C297.7,936.8 313.2,938.8 324,941 C334.8,943.2 338.7,945.3 345,949 C351.3,952.7 357.5,957.7 362,963 C366.5,968.3 369.4,975.7 372,981 C374.6,986.3 376.4,989.8 377.8,995 C379.2,1000.2 379.8,1001.2 380.2,1012 C380.6,1022.8 380.5,1043.7 380.5,1060 C380.5,1076.3 380.8,1093.3 380.2,1110 C379.6,1126.7 378.1,1145.3 377,1160 C375.9,1174.7 373.9,1191.7 373.3,1198 L380,1199 L398,1150 L398,915 L200,915 L95,950 L95,961.5 L68,966.5 Z" fill="#3F2410"/>
<path d="M422.1,1205.5 C422.3,1197.9 423,1175.1 423.5,1160 C424,1144.9 424.4,1133.3 425.3,1115 C426.2,1096.7 427.7,1069.2 429,1050 C430.3,1030.8 432.1,1010.7 433,1000 C433.9,989.3 433.8,989.8 434.5,986 C435.2,982.2 436.3,979.6 437.5,977 C438.7,974.4 439.8,972.7 441.5,970.5 C443.2,968.3 445.2,965.9 447.5,964 C449.8,962.1 451.9,960.6 455,959.3 C458.1,958 462.5,957 466,956.3 C469.5,955.6 467.4,955 476,955 C484.6,955 503.7,954.4 517.7,956.5 C531.7,958.6 544.4,962.4 560,967.7 C575.6,973 594.2,981.1 611.2,988.2 C628.2,995.3 645.2,1001.9 662.3,1010.4 C679.3,1018.9 700.5,1032.6 713.5,1039.4 C726.5,1046.2 731.8,1047.3 740,1051 C748.2,1054.7 759.2,1059.8 763,1061.5 L746.3,1036.6 L746.3,990 L600,950 L420,935 L419.8,1204 Z" fill="#3F2410"/>
<path d="M68,973.5 C81.7,970.6 125,960.9 150,956 C175,951.1 196.3,946 218,944 C239.7,942 262.7,943.3 280,944 C297.3,944.7 312,945.8 322,948 C332,950.2 334.8,953.3 340,957 C345.2,960.7 349.3,965.3 353,970 C356.7,974.7 359.4,980.5 362,985 C364.6,989.5 366.8,992.5 368.5,997 C370.2,1001.5 371.6,1001.5 372.5,1012 C373.4,1022.5 373.6,1043.7 374,1060 C374.4,1076.3 375.1,1093.3 374.7,1110 C374.3,1126.7 372.8,1145.5 371.5,1160 C370.2,1174.5 367.9,1190.8 367.2,1197 C366,1196.6 361.8,1198.2 360.2,1194.7 C358.6,1191.2 357,1182 357.8,1175.7 C358.6,1169.5 364,1165.6 365,1157.2 C366,1148.8 364.7,1134.4 364,1125.6 C363.3,1116.8 361.2,1110.2 361,1104.5 C360.8,1098.8 362.6,1097.9 363,1091.3 C363.4,1084.7 364.1,1072.9 363.5,1065 C362.9,1057.1 359.9,1050.5 359.5,1043.9 C359.1,1037.3 361.2,1031.6 361,1025.4 C360.8,1019.3 359.2,1011.9 358.4,1007 C357.6,1002.1 357.4,999.7 356,996 C354.6,992.3 352.8,988.9 350,985 C347.2,981.1 343.8,976.3 339.4,972.7 C335,969.1 329.3,965.2 323.6,963.5 C317.9,961.8 309.5,962.9 305.1,962.2 C300.7,961.5 300.7,960.4 297.2,959.5 C293.7,958.6 292.8,957.8 284,956.9 C275.2,956 255.5,953.9 244.5,954.3 C233.5,954.7 225.1,957.3 218.1,959.5 C211.1,961.7 206.7,966.7 202.3,967.4 C197.9,968.1 198.9,964.5 191.8,963.5 C184.8,962.5 168.4,960.5 160,961.7 C151.6,963 145.5,968.3 141.4,971 C137.3,973.7 142.3,976.8 135.2,978 C128.1,979.2 110,976.2 98.8,978 C87.6,979.8 73.1,986.8 67.9,988.5 Z" fill="url(#gLSub)"/>
<path d="M430,1206.7 C430.1,1198.9 430.3,1175.3 430.5,1160 C430.7,1144.7 430.1,1133.3 431,1115 C431.9,1096.7 434.2,1069.2 436,1050 C437.8,1030.8 440.2,1010.5 441.5,1000 C442.8,989.5 442.9,991 444,987 C445.1,983 445.9,979.2 448,976 C450.1,972.8 453.3,969.7 456.3,967.7 C459.3,965.8 462.7,965.1 466,964.3 C469.3,963.5 467.4,962.7 476,962.8 C484.6,962.9 503.7,962.9 517.7,964.9 C531.7,966.9 544.4,969.6 560,974.6 C575.6,979.6 594.2,987.6 611.2,995 C628.2,1002.4 645.2,1009.8 662.3,1018.9 C679.3,1028 700.5,1042.8 713.5,1049.6 C726.5,1056.4 731.8,1056.6 740,1060 C748.2,1063.4 759.2,1068.3 763,1070 L770,1073 C778.3,1081.8 814,1121 820,1125.6 C826,1130.2 811.3,1107 806,1100.5 C800.7,1094 795.7,1090.5 788,1086.5 C780.3,1082.5 768,1078.6 760,1076.7 C752,1074.8 745.3,1076.8 740,1075 C734.7,1073.2 732.2,1069.7 728,1066 C723.8,1062.3 719.7,1056.8 715,1053 C710.3,1049.2 704,1045.2 700,1043 C696,1040.8 696.1,1041.2 690.7,1039.5 C685.3,1037.8 675.2,1034.3 667.4,1032.6 C659.6,1030.8 650.2,1029.8 644,1029 C637.8,1028.2 633.8,1030.1 630,1028 C626.2,1025.9 625.2,1020.6 621,1016.3 C616.8,1012 610.5,1006.2 604.7,1002.3 C598.9,998.4 593,995.7 586,993 C579,990.3 569.8,987.5 562.8,986 C555.8,984.5 549.5,983.7 544,983.7 C538.5,983.7 535.4,986.2 530,986 C524.6,985.8 518.3,983.6 511.6,982.4 C504.9,981.2 496.9,978.9 489.8,978.8 C482.7,978.7 473.1,980.6 468.8,981.6 C464.5,982.6 465.6,983.3 464,984.5 C462.4,985.7 460.2,987.2 459,988.6 C457.8,990 457.6,991.1 457,993 C456.4,994.9 455.6,991.9 455.1,1000 C454.6,1008.1 455.3,1031.8 454.2,1041.9 C453.1,1052 449.7,1052 448.6,1060.5 C447.5,1069 448,1083.1 447.7,1093 C447.4,1102.9 448.5,1112 446.7,1120 C444.9,1128 438.7,1134.9 437,1141 C435.3,1147.1 436.1,1150.8 436.5,1156.5 C436.9,1162.2 438.2,1169.1 439.3,1175 C440.4,1180.9 442.4,1189.2 443,1192 Z" fill="url(#gRSub)"/>
<path d="M763,1070 L870,944 C873.3,945.3 883.3,949 890,952 C896.7,955 904.1,957.7 910,962 C915.9,966.3 922.9,975.3 925.5,978 C922.8,981.7 914.5,992.4 909.3,1000 C904,1007.6 898.6,1016.5 894,1023.7 C889.4,1030.9 885.1,1038 881.4,1043.3 C877.7,1048.6 876.7,1050 871.6,1055.8 C866.5,1061.6 856.8,1071 850.7,1078 C844.7,1085 840.4,1089.8 835.3,1097.7 C830.2,1105.6 822.5,1120.9 820,1125.6 C817.7,1121.4 811.3,1107 806,1100.5 C800.7,1094 795.7,1090.5 788,1086.5 C780.3,1082.5 767.2,1078.8 760,1076.7 C752.8,1074.6 747.5,1074.5 745,1074 Z" fill="url(#gPiaEnd)"/>
<path d="M763,1070 L870,944 C873.3,945.3 883.3,949 890,952 C896.7,955 904.1,957.7 910,962 C915.9,966.3 922.9,975.3 925.5,978 C922.8,981.7 914.5,992.4 909.3,1000 C904,1007.6 898.6,1016.5 894,1023.7 C889.4,1030.9 885.1,1038 881.4,1043.3 C877.7,1048.6 876.7,1050 871.6,1055.8 C866.5,1061.6 856.8,1071 850.7,1078 C844.7,1085 840.4,1089.8 835.3,1097.7 C830.2,1105.6 822.5,1120.9 820,1125.6 C817.7,1121.4 811.3,1107 806,1100.5 C800.7,1094 795.7,1090.5 788,1086.5 C780.3,1082.5 767.2,1078.8 760,1076.7 C752.8,1074.6 747.5,1074.5 745,1074 Z" fill="url(#gPiaGlow)"/>
<path d="M763,1070 L870,944 C873.3,945.3 883.3,949 890,952 C896.7,955 904.1,957.7 910,962 C915.9,966.3 922.9,975.3 925.5,978 C922.8,981.7 914.5,992.4 909.3,1000 C904,1007.6 898.6,1016.5 894,1023.7 C889.4,1030.9 885.1,1038 881.4,1043.3 C877.7,1048.6 876.7,1050 871.6,1055.8 C866.5,1061.6 856.8,1071 850.7,1078 C844.7,1085 840.4,1089.8 835.3,1097.7 C830.2,1105.6 822.5,1120.9 820,1125.6 C817.7,1121.4 811.3,1107 806,1100.5 C800.7,1094 795.7,1090.5 788,1086.5 C780.3,1082.5 767.2,1078.8 760,1076.7 C752.8,1074.6 747.5,1074.5 745,1074 Z" fill="url(#gPiaGlow2)"/>
<path d="M67.9,988.5 C73.1,986.8 87.6,979.8 98.8,978 C110,976.2 128.1,979.2 135.2,978 C142.3,976.8 137.3,973.7 141.4,971 C145.5,968.3 151.6,963 160,961.7 C168.4,960.5 184.8,962.5 191.8,963.5 C198.9,964.5 197.9,968.1 202.3,967.4 C206.7,966.7 211.1,961.7 218.1,959.5 C225.1,957.3 233.5,954.7 244.5,954.3 C255.5,953.9 275.2,956 284,956.9 C292.8,957.8 293.7,958.6 297.2,959.5 C300.7,960.4 300.7,961.5 305.1,962.2 C309.5,962.9 317.9,961.8 323.6,963.5 C329.3,965.2 335,969.1 339.4,972.7 C343.8,976.3 347.2,981.1 350,985 C352.8,988.9 354.6,992.3 356,996 C357.4,999.7 357.6,1002.1 358.4,1007 C359.2,1011.9 360.8,1019.3 361,1025.4 C361.2,1031.6 359.1,1037.3 359.5,1043.9 C359.9,1050.5 362.9,1057.1 363.5,1065 C364.1,1072.9 363.4,1084.7 363,1091.3 C362.6,1097.9 360.8,1098.8 361,1104.5 C361.2,1110.2 363.3,1116.8 364,1125.6 C364.7,1134.4 366,1148.8 365,1157.2 C364,1165.6 358.6,1169.5 357.8,1175.7 C357,1182 359.8,1191.5 360.2,1194.7" fill="none" stroke="#7B36B8" stroke-width="2.8"/>
<path d="M443,1192 C442.4,1189.2 440.4,1180.9 439.3,1175 C438.2,1169.1 436.9,1162.2 436.5,1156.5 C436.1,1150.8 435.3,1147.1 437,1141 C438.7,1134.9 444.9,1128 446.7,1120 C448.5,1112 447.4,1102.9 447.7,1093 C448,1083.1 447.5,1069 448.6,1060.5 C449.7,1052 453.1,1052 454.2,1041.9 C455.3,1031.8 454.6,1008.1 455.1,1000 C455.6,991.9 456.4,994.9 457,993 C457.6,991.1 457.8,990 459,988.6 C460.2,987.2 462.4,985.7 464,984.5 C465.6,983.3 464.5,982.6 468.8,981.6 C473.1,980.6 482.7,978.7 489.8,978.8 C496.9,978.9 504.9,981.2 511.6,982.4 C518.3,983.6 524.6,985.8 530,986 C535.4,986.2 538.5,983.7 544,983.7 C549.5,983.7 555.8,984.5 562.8,986 C569.8,987.5 579,990.3 586,993 C593,995.7 598.9,998.4 604.7,1002.3 C610.5,1006.2 616.8,1012 621,1016.3 C625.2,1020.6 626.2,1025.9 630,1028 C633.8,1030.1 637.8,1028.2 644,1029 C650.2,1029.8 659.6,1030.8 667.4,1032.6 C675.2,1034.3 685.3,1037.8 690.7,1039.5 C696.1,1041.2 696,1040.8 700,1043 C704,1045.2 710.3,1049.2 715,1053 C719.7,1056.8 723.8,1062.3 728,1066 C732.2,1069.7 734.7,1073.2 740,1075 C745.3,1076.8 752,1074.8 760,1076.7 C768,1078.6 780.3,1082.5 788,1086.5 C795.7,1090.5 800.7,1094 806,1100.5 C811.3,1107 817.7,1121.4 820,1125.6" fill="none" stroke="#7B36B8" stroke-width="2.8"/>
<path d="M820,1125.6 C822.5,1120.9 830.2,1105.6 835.3,1097.7 C840.4,1089.8 844.7,1085 850.7,1078 C856.8,1071 866.5,1061.6 871.6,1055.8 C876.7,1050 877.7,1048.6 881.4,1043.3 C885.1,1038 889.4,1030.9 894,1023.7 C898.6,1016.5 904,1007.6 909.3,1000 C914.5,992.4 922.8,981.7 925.5,978" fill="none" stroke="#7B36B8" stroke-width="2.5"/>
<g transform="translate(222,944) rotate(118.7)"><path d="M0,-2.8 L30.2,-4 L30.2,4 L0,2.8Z" fill="url(#gVes)" opacity="0.95"/><ellipse cx="30.2" cy="0" rx="3" ry="4.5" fill="#E8A0AA"/><ellipse cx="30.5" cy="0" rx="2.1" ry="3.4" fill="#B0102A"/></g>
<g transform="translate(541,968) rotate(126.1)"><path d="M0,-3.5 L31.7,-5 L31.7,5 L0,3.5Z" fill="url(#gVes)" opacity="0.95"/><ellipse cx="31.7" cy="0" rx="3.8" ry="5.6" fill="#E8A0AA"/><ellipse cx="32" cy="0" rx="2.6" ry="4.2" fill="#B0102A"/></g>
<g transform="translate(737,1050) rotate(97.6)"><path d="M0,-3.1 L35.3,-4.5 L35.3,4.5 L0,3.1Z" fill="url(#gVes)" opacity="0.95"/><ellipse cx="35.3" cy="0" rx="3.4" ry="5" fill="#E8A0AA"/><ellipse cx="35.6" cy="0" rx="2.3" ry="3.8" fill="#B0102A"/></g>
<g transform="translate(374,1093) rotate(146.8)"><path d="M0,-3.1 L30.1,-4.5 L30.1,4.5 L0,3.1Z" fill="url(#gVes)" opacity="0.95"/><ellipse cx="30.1" cy="0" rx="3.4" ry="5" fill="#E8A0AA"/><ellipse cx="30.4" cy="0" rx="2.3" ry="3.8" fill="#B0102A"/></g>
<g transform="translate(449,1106) rotate(103.8)"><path d="M0,-3.1 L31.4,-4.5 L31.4,4.5 L0,3.1Z" fill="url(#gVes)" opacity="0.95"/><ellipse cx="31.4" cy="0" rx="3.4" ry="5" fill="#E8A0AA"/><ellipse cx="31.7" cy="0" rx="2.3" ry="3.8" fill="#B0102A"/></g>
<path d="M68,966.5 C81.7,963.5 125,953.6 150,948.5 C175,943.4 196.3,938.1 218,936 C239.7,933.9 262.3,935.2 280,936 C297.7,936.8 313.2,938.8 324,941 C334.8,943.2 338.7,945.3 345,949 C351.3,952.7 357.5,957.7 362,963 C366.5,968.3 369.4,975.7 372,981 C374.6,986.3 376.4,989.8 377.8,995 C379.2,1000.2 379.8,1001.2 380.2,1012 C380.6,1022.8 380.5,1043.7 380.5,1060 C380.5,1076.3 380.8,1093.3 380.2,1110 C379.6,1126.7 378.1,1145.3 377,1160 C375.9,1174.7 373.9,1191.7 373.3,1198 C372.3,1197.8 367.5,1203.3 367.2,1197 C366.9,1190.7 370.2,1174.5 371.5,1160 C372.8,1145.5 374.3,1126.7 374.7,1110 C375.1,1093.3 374.4,1076.3 374,1060 C373.6,1043.7 373.4,1022.5 372.5,1012 C371.6,1001.5 370.2,1001.5 368.5,997 C366.8,992.5 364.6,989.5 362,985 C359.4,980.5 356.7,974.7 353,970 C349.3,965.3 345.2,960.7 340,957 C334.8,953.3 332,950.2 322,948 C312,945.8 297.3,944.7 280,944 C262.7,943.3 239.7,942 218,944 C196.3,946 175,951.1 150,956 C125,960.9 81.7,970.6 68,973.5 Z" fill="#EC1A7E"/>
<path d="M422.1,1205.5 C422.3,1197.9 423,1175.1 423.5,1160 C424,1144.9 424.4,1133.3 425.3,1115 C426.2,1096.7 427.7,1069.2 429,1050 C430.3,1030.8 432.1,1010.7 433,1000 C433.9,989.3 433.8,989.8 434.5,986 C435.2,982.2 436.3,979.6 437.5,977 C438.7,974.4 439.8,972.7 441.5,970.5 C443.2,968.3 445.2,965.9 447.5,964 C449.8,962.1 451.9,960.6 455,959.3 C458.1,958 462.5,957 466,956.3 C469.5,955.6 467.4,955 476,955 C484.6,955 503.7,954.4 517.7,956.5 C531.7,958.6 544.4,962.4 560,967.7 C575.6,973 594.2,981.1 611.2,988.2 C628.2,995.3 645.2,1001.9 662.3,1010.4 C679.3,1018.9 700.5,1032.6 713.5,1039.4 C726.5,1046.2 731.8,1047.3 740,1051 C748.2,1054.7 759.2,1059.8 763,1061.5 C763,1062.9 766.8,1070.2 763,1070 C759.2,1069.8 748.2,1063.4 740,1060 C731.8,1056.6 726.5,1056.4 713.5,1049.6 C700.5,1042.8 679.3,1028 662.3,1018.9 C645.2,1009.8 628.2,1002.4 611.2,995 C594.2,987.6 575.6,979.6 560,974.6 C544.4,969.6 531.7,966.9 517.7,964.9 C503.7,962.9 484.6,962.9 476,962.8 C467.4,962.7 469.3,963.5 466,964.3 C462.7,965.1 459.3,965.8 456.3,967.7 C453.3,969.7 450.1,972.8 448,976 C445.9,979.2 445.1,983 444,987 C442.9,991 442.8,989.5 441.5,1000 C440.2,1010.5 437.8,1030.8 436,1050 C434.2,1069.2 431.9,1096.7 431,1115 C430.1,1133.3 430.7,1144.7 430.5,1160 C430.3,1175.3 430.1,1198.9 430,1206.7 Z" fill="#EC1A7E"/>
<path d="M746.3,1036.6 L854,922.6 L862,930 L870,937 L763,1061.5 L746.3,1054Z" fill="url(#gArTop)"/>
<path d="M870,937 L870,944 L763,1070 L763,1061.5Z" fill="#D0127A"/>
<path d="M66,926 C73.3,923.8 94.3,916.7 110,912.5 C125.7,908.3 143.3,904.2 160,901 C176.7,897.8 193.3,895.2 210,893 C226.7,890.8 240,888.7 260,887.5 C280,886.3 305,885.5 330,886 C355,886.5 383.3,888 410,890.5 C436.7,893 465,896.4 490,901 C515,905.6 540,912.3 560,918 C580,923.7 593.8,928.8 610,935 C626.2,941.2 649.2,951.7 657,955 L792,860 C794.3,860.3 802.2,860.7 806,862 C809.8,863.3 812.2,865.5 815,868 C817.8,870.5 821.3,875.5 822.6,877 L823.7,888 L854,912 L854,922.6 L746.3,1036.6 C738.6,1032.8 715,1020.9 700,1014 C685,1007.1 671.2,1001.7 656,995.3 C640.8,988.9 624.5,981.3 609,975.6 C593.5,969.9 578.2,965.1 563,961 C547.8,956.9 532.2,952.8 517.7,950.9 C503.2,949 485.6,949.5 476,949.5 C466.4,949.5 464.7,950.3 460,951 C455.3,951.7 451.3,952.5 448,953.7 C444.7,955 442.3,956.6 440,958.5 C437.7,960.4 435.5,962.6 434,965 C432.5,967.4 431.9,969.5 431,973 C430.1,976.5 429,981.3 428.4,985.8 C427.8,990.3 427.8,989.3 427.2,1000 C426.6,1010.7 425.8,1030.8 425,1050 C424.2,1069.2 423.3,1096.7 422.6,1115 C421.9,1133.3 421.5,1145 421,1160 C420.5,1175 420,1197.5 419.8,1205 L376.5,1198.5 C377.2,1192.1 379.7,1174.8 381,1160 C382.3,1145.2 383.6,1126.7 384.4,1110 C385.1,1093.3 385.2,1076.3 385.5,1060 C385.8,1043.7 386.6,1023.2 386.3,1012 C386,1000.8 385.4,999.2 383.5,993 C381.6,986.8 378.9,981.3 375,975 C371.1,968.7 366.3,961.2 360,955 C353.7,948.8 347.5,942.3 337,938 C326.5,933.7 316.8,930 297,929 C277.2,928 244.3,929.3 218,932 C191.7,934.7 164.3,940.2 139,945 C113.7,949.8 78.2,958.3 66,961 Z" fill="#F0787F"/>
<path d="M704,979.5 L822.6,877 L823.7,888 L704,996Z" fill="#D8706F"/>
<path d="M746.3,1023.7 L854,912 L854,922.6 L746.3,1036.6Z" fill="#E98A84"/>
<path d="M657,955.5 L704,997 L746.3,1023.7" stroke="#D86C72" stroke-width="1" fill="none"/>
<path d="M66,943 C81.7,940 126.5,930.5 160,925 C193.5,919.5 249.2,912.5 267,910" stroke="#D8646C" stroke-width="1" fill="none"/>
<path d="M405,990 L401.6,1110 L397.9,1203" stroke="#D86870" stroke-width="1" fill="none"/>
<path d="M267,910 C272.5,909 286.2,905.2 300,904 C313.8,902.8 332.2,902.7 350,903 C367.8,903.3 387,904.5 407,906 C427,907.5 451.2,909.3 470,912 C488.8,914.7 503.8,916.7 520,922 C536.2,927.3 559.5,940.3 567.4,944 C566.1,943.8 565.5,944.2 559.5,942.6 C553.5,941 540.9,936.3 531.6,934.2 C522.3,932.1 515.3,930.2 503.7,930 C492.1,929.8 472.6,931.5 462,933 C451.4,934.5 445.6,937.2 440,939 C434.4,940.8 432.1,941 428.7,944 C425.3,947 422.1,952.2 419.5,957 C416.9,961.8 415.1,967.2 413,973 C410.9,978.8 408,988.8 407,992 C406,989.5 403.6,984 400.8,976.8 C398,969.6 393.4,955.7 390,949 C386.6,942.3 384.5,940.4 380.6,936.5 C376.7,932.6 372.4,928.8 366.7,925.7 C361,922.6 353.7,920 346.5,917.9 C339.3,915.8 331.1,914.6 323.3,913.3 C315.6,912 309.4,910.5 300,910 C290.6,909.5 272.5,910 267,910 Z" fill="url(#gSinus)"/>
<path d="M267,910 C272.5,909 286.2,905.2 300,904 C313.8,902.8 332.2,902.7 350,903 C367.8,903.3 387,904.5 407,906 C427,907.5 451.2,909.3 470,912 C488.8,914.7 503.8,916.7 520,922 C536.2,927.3 559.5,940.3 567.4,944 C566.1,943.8 565.5,944.2 559.5,942.6 C553.5,941 540.9,936.3 531.6,934.2 C522.3,932.1 515.3,930.2 503.7,930 C492.1,929.8 472.6,931.5 462,933 C451.4,934.5 445.6,937.2 440,939 C434.4,940.8 432.1,941 428.7,944 C425.3,947 422.1,952.2 419.5,957 C416.9,961.8 415.1,967.2 413,973 C410.9,978.8 408,988.8 407,992 C406,989.5 403.6,984 400.8,976.8 C398,969.6 393.4,955.7 390,949 C386.6,942.3 384.5,940.4 380.6,936.5 C376.7,932.6 372.4,928.8 366.7,925.7 C361,922.6 353.7,920 346.5,917.9 C339.3,915.8 331.1,914.6 323.3,913.3 C315.6,912 309.4,910.5 300,910 C290.6,909.5 272.5,910 267,910 Z" fill="url(#gSinusHi)"/>
<path d="M567.4,944 C569.5,944.8 567.9,944.5 580,948.8 C592.1,953.1 619.5,962.3 640,970 C660.5,977.7 692.3,990.7 702.8,994.8" stroke="#5A2A28" stroke-width="1.1" fill="none"/>
<path d="M381.8,923 L381.1,923.8 L380.2,924.9 L379.2,926.1 L378,927.5 L376.8,928.9 L375.5,930.4 L374.2,931.8 L373.1,933.2 L371.9,934.4 L370.7,935.7 L369.5,937 L368.3,938.3 L367.1,939.6 L365.9,940.8 L364.7,942.1 L363.4,943.3 L362.1,944.5 L360.6,945.8 L359.1,947.1 L357.5,948.4 L356,949.7 L354.7,950.8 L353.6,951.7 L352.7,952.4 L355.3,955.6 L356.1,954.9 L357.3,954 L358.7,953 L360.2,951.8 L361.9,950.6 L363.5,949.3 L365.1,948 L366.6,946.7 L367.9,945.5 L369.3,944.3 L370.6,943.1 L371.9,941.8 L373.2,940.6 L374.5,939.3 L375.7,938.1 L376.9,936.8 L378.2,935.5 L379.6,934.1 L380.9,932.7 L382.2,931.3 L383.5,929.9 L384.6,928.7 L385.5,927.7 L386.2,927Z" fill="#F3A0C8"/>
<ellipse cx="386" cy="922.5" rx="7.5" ry="7" fill="url(#gVillus)" stroke="#E0308A" stroke-width="1"/>
<path d="M360.2,1194.7 L367.7,1186.3 L367.4,1198 L359,1198Z" fill="#fff"/>
<path d="M66,973.2 L95,966.5 L66,986.5Z" fill="#fff"/>
<path d="M430,1206.9 L443,1192 L439.3,1208.5Z" fill="#fff"/>
<path d="M66,901 L326,798 C326,798 315.3,800.3 326,798 C336.7,795.7 364.8,787.1 390,784 C415.2,780.9 448,779.7 477,779.5 C506,779.3 535,780.1 564,782.6 C593,785.1 622.1,789.8 651,794.7 C679.9,799.6 714,806.6 737.5,812 C761,817.4 782.9,824.5 792,827 L657,924 C657,924 664.8,927.3 657,924 C649.2,920.7 626.2,910 610,904 C593.8,898 580,893 560,888 C540,883 515,878 490,874 C465,870 436.7,866.5 410,864 C383.3,861.5 355,859.3 330,859 C305,858.7 280,860.5 260,862 C240,863.5 226.7,865.3 210,868 C193.3,870.7 176.7,874.3 160,878 C143.3,881.7 125.7,885.8 110,890 C94.3,894.2 73.3,900.8 66,903 Z" fill="url(#gSkullTop)"/>
<path d="M66,903 C73.3,900.8 94.3,894.2 110,890 C125.7,885.8 143.3,881.7 160,878 C176.7,874.3 193.3,870.7 210,868 C226.7,865.3 240,863.5 260,862 C280,860.5 305,858.7 330,859 C355,859.3 383.3,861.5 410,864 C436.7,866.5 465,870 490,874 C515,878 540,883 560,888 C580,893 593.8,898 610,904 C626.2,910 649.2,920.7 657,924 L657,955 C657,955 664.8,958.3 657,955 C649.2,951.7 626.2,941.2 610,935 C593.8,928.8 580,923.7 560,918 C540,912.3 515,905.6 490,901 C465,896.4 436.7,893 410,890.5 C383.3,888 355,886.5 330,886 C305,885.5 280,886.3 260,887.5 C240,888.7 226.7,890.8 210,893 C193.3,895.2 176.7,897.8 160,901 C143.3,904.2 125.7,908.3 110,912.5 C94.3,916.7 73.3,923.8 66,926 Z" fill="#DCCAAE"/>
<path d="M657,924 L792,827 L792,860 L657,955Z" fill="#D6C3A5"/>
<path d="M70.3,909.3 Q73.9,907.4 77.6,907.1 M79.4,913.7 Q82.9,910.1 86.4,911.5 M80.5,907.3 Q83.4,903.9 86.3,905.5 M88.7,912.1 Q91.4,910.4 94.1,910.4 M95.4,901.4 Q98.9,899.6 102.4,899.4 M103.2,906.1 Q107.2,903.3 111.2,903.9 M106.8,899.8 Q110.3,896.4 113.8,898 M110.5,905.4 Q114.1,902.8 117.8,903.5 M118.1,896.6 Q121.7,894 125.3,894.8 M124.5,901.7 Q127.5,898.4 130.6,900.2 M130.5,892.6 Q133.3,891.1 136.1,891.2 M134.3,898.8 Q137.6,896.3 141,897.2 M143.1,891.6 Q145.8,889.3 148.5,890.4 M146.9,896.1 Q151,893.5 155.2,894.2 M154.7,888.5 Q158.2,886.1 161.7,887 M158.9,893.6 Q162.3,891.2 165.6,892.1 M161.3,885.7 Q165.1,884.1 168.8,884.1 M167.2,893 Q170.9,889.7 174.5,891.5 M175.8,883.1 Q179.5,881.4 183.2,881.5 M185.9,888.6 Q189.4,886.2 193,887.1 M189.7,880 Q192.6,877.8 195.6,878.9 M196.7,887.1 Q199.5,884.9 202.3,886 M201.5,879.6 Q205.5,877.3 209.5,878.3 M206.8,886.7 Q210.5,884.4 214.1,885.5 M212,876.2 Q214.9,874.9 217.9,875.3 M217.3,884.7 Q220.1,882.6 222.9,883.9 M223.1,875 Q226.6,873.7 230.1,874 M230.6,882.4 Q234.2,879.4 237.8,881.5 M235.6,875 Q239.8,872.1 243.9,874.1 M244.6,880 Q247.8,878.9 251,879.4 M247.1,872 Q251.3,869.9 255.6,871.2 M253.3,879.2 Q255.9,878.1 258.5,878.8 M260.9,872.5 Q264.4,871.4 268,871.9 M269.7,879 Q272.5,877.2 275.2,878.7 M275.9,870.6 Q278.6,868.7 281.3,870.2 M283.6,877.8 Q287,876.7 290.3,877.4 M286.8,870.9 Q290.1,868.2 293.4,870.5 M288.4,877 Q292.6,874.3 296.7,876.6 M297.4,870.6 Q301.2,868.8 305,870.3 M305.2,878.3 Q308.9,876.5 312.6,878 M311.7,869.1 Q314.6,866.6 317.5,869 M316.9,876.6 Q319.8,875.7 322.7,876.5 M324.4,870 Q327.3,867.5 330.2,870 M327.1,877.8 Q331.3,876.2 335.5,877.9 M332.3,869.7 Q335.4,867.3 338.5,869.9 M343,878.5 Q346.2,877.8 349.3,878.7 M344.1,869.4 Q347.5,867 350.8,869.7 M352.1,878.1 Q355.7,875.8 359.3,878.5 M355.1,870.8 Q359,870.1 362.8,871.2 M360,877.5 Q363.9,876.1 367.7,878 M367.7,871.5 Q371,869.2 374.3,871.9 M374.2,879.4 Q377,878.8 379.8,879.8 M375.3,871.3 Q379,869.1 382.6,871.9 M382.8,880.9 Q386.4,879.5 390.1,881.4 M385.5,871 Q389.4,868.8 393.3,871.6 M391.8,880.4 Q396,879.1 400.1,881.2 M398.6,873.7 Q401.2,873 403.7,874.1 M404.3,880.8 Q407.8,879.5 411.3,881.5 M413.4,873.3 Q417.2,872 421,874 M418.8,883.8 Q422.2,881.6 425.6,884.5 M419.6,874.7 Q423.6,874.3 427.7,875.6 M429.6,884.4 Q432.4,883.8 435.1,885 M435.9,877.1 Q439,874.9 442,877.8 M439.9,885.3 Q443.8,883.3 447.7,886.2 M443.3,876.5 Q446,875.1 448.7,877.1 M450.1,887 Q454.2,885.8 458.3,888 M459.1,879.8 Q462,878.5 464.8,880.6 M461.5,887.7 Q464.9,887.3 468.2,888.6 M471.2,882.6 Q474.2,880.5 477.2,883.4 M477,889.5 Q480.3,888.3 483.6,890.5 M479.2,881.2 Q482.1,880.8 485,882.1 M484,890.6 Q486.7,890.2 489.4,891.4 M494.1,884.4 Q497,884 500,885.4 M500.8,893.7 Q505,892.8 509.2,895.2 M504.8,887.5 Q507.7,885.5 510.6,888.6 M512.2,896.5 Q515.3,896.3 518.4,897.7 M515.6,888.7 Q518.7,887.6 521.8,889.9 M523.7,898.3 Q526.8,896.4 529.9,899.6 M531,891.2 Q535.1,891.2 539.2,892.9 M538.2,901.5 Q541.2,901.3 544.1,902.8 M540.1,895.3 Q544,893.6 548,897 M551.1,905.6 Q553.9,903.8 556.6,907 M556.8,897.7 Q559.4,895.9 562,899 M559.4,908.9 Q562.3,908.8 565.3,910.4 M568.6,900.4 Q572.6,900.7 576.6,902.7 M572.8,911.3 Q575.4,909.6 577.9,912.8 M582.4,906.4 Q584.9,904.7 587.5,908 M584.1,914.4 Q586.9,914.5 589.7,916.3 M592.3,909.3 Q595.8,909.6 599.2,911.7 M595.1,919.4 Q597.9,918.7 600.7,921.4 M606.8,913.6 Q609.4,912 611.9,915.5 M609.4,923.9 Q612.7,923.5 616,926.5 M615.4,917.5 Q618.7,917.2 622.1,920.3 M622.8,929.3 Q625.6,929.7 628.5,931.8 M626.6,922.8 Q630.2,922.7 633.8,925.9 M633.2,935.4 Q637.1,936.3 641.1,938.9 M637.1,926 Q639.9,926.4 642.7,928.5 M642.1,938.1 Q645.5,937.9 648.8,941.1 M660.5,930.8 Q662.8,926.6 665,927.6 M662,940.6 Q664.2,936.4 666.5,937.4 M668.8,925.7 Q671.1,921.5 673.3,922.5 M672.8,934.6 Q675.1,930.4 677.3,931.4 M680.2,916.8 Q682.4,912.6 684.7,913.6 M684.9,924.2 Q687.1,920 689.4,921 M690.1,910.4 Q692.4,906.2 694.6,907.2 M692.8,918.7 Q695.1,914.5 697.3,915.5 M701.9,901.7 Q704.2,897.5 706.4,898.5 M705.3,909.4 Q707.6,905.2 709.8,906.2 M712.8,893.7 Q715.1,889.5 717.3,890.5 M715.1,903.2 Q717.4,899 719.6,900 M721.6,888.6 Q723.9,884.4 726.1,885.4 M724,898.3 Q726.3,894.1 728.5,895.1 M733.7,878.9 Q735.9,874.7 738.2,875.7 M736.8,888.8 Q739.1,884.6 741.3,885.6 M743.3,873.5 Q745.6,869.3 747.8,870.3 M746.7,881.1 Q748.9,876.9 751.2,877.9 M752.8,866.4 Q755,862.2 757.3,863.2 M755.3,875.7 Q757.6,871.5 759.8,872.5 M764.4,857.8 Q766.7,853.6 768.9,854.6 M766.6,867.5 Q768.8,863.3 771.1,864.3 M774.2,851.8 Q776.4,847.6 778.7,848.6 M777.9,859.1 Q780.2,854.9 782.4,855.9 M785.5,841.6 Q787.7,837.4 790,838.4 M788.1,852.5 Q790.4,848.3 792.6,849.3" fill="none" stroke="#968169" stroke-width="2.2" stroke-linecap="round"/>
<path d="M418.5,856.3 L462.5,860.3 L433.7,847.9 L474.9,851.5 L448.9,839.5 L487.4,842.7 L464.1,831.1 L499.8,833.9 L479.2,822.6 L512.2,825.1 L494.4,814.2 L524.7,816.4 L509.6,805.8 L537.1,807.6 L524.8,797.4 L549.6,798.8 L540,789" fill="none" stroke="#C69C80" stroke-width="1.4" stroke-linejoin="round" opacity="0.85"/>
<text x="756.2" y="660.2" font-size="30" fill="#111111" textLength="62.4" lengthAdjust="spacingAndGlyphs">Skull</text>
<text x="350.9" y="751" font-size="30" fill="#111111" textLength="290.8" lengthAdjust="spacingAndGlyphs">Superior sagittal sinus</text>
<text x="40.6" y="815.1" font-size="30" fill="#111111" textLength="211.4" lengthAdjust="spacingAndGlyphs">Arachnoid villus</text>
<text x="891.5" y="771" font-size="30" fill="#EC7580" textLength="198.4" lengthAdjust="spacingAndGlyphs">Periosteal layer</text>
<text x="925.5" y="821.2" font-size="30" fill="#EC7580" textLength="211.8" lengthAdjust="spacingAndGlyphs">Meningeal layer</text>
<text x="1182.5" y="780.1" font-size="29" fill="#EC7580" font-weight="bold" textLength="68.4" lengthAdjust="spacingAndGlyphs">Dura</text>
<text x="1182.5" y="817.8" font-size="29" fill="#EC7580" font-weight="bold" textLength="83.8" lengthAdjust="spacingAndGlyphs">mater</text>
<text x="979.7" y="878.7" font-size="30" fill="#111111" textLength="202.3" lengthAdjust="spacingAndGlyphs">Subdural space</text>
<text x="1020.1" y="927.6" font-size="29" fill="#E6177A" font-weight="bold" textLength="237" lengthAdjust="spacingAndGlyphs">Arachnoid mater</text>
<text x="1020.7" y="964.5" font-size="30" fill="#111111" textLength="183.7" lengthAdjust="spacingAndGlyphs">Subarachnoid</text>
<text x="1020.5" y="1002.4" font-size="30" fill="#111111" textLength="76" lengthAdjust="spacingAndGlyphs">space</text>
<text x="1021.5" y="1051.3" font-size="29" fill="#6B2C95" font-weight="bold" textLength="134" lengthAdjust="spacingAndGlyphs">Pia mater</text>
<text x="968.9" y="1162" font-size="30" fill="#111111" textLength="156.1" lengthAdjust="spacingAndGlyphs">Gray matter</text>
<text x="961" y="1223.2" font-size="30" fill="#111111" textLength="173.1" lengthAdjust="spacingAndGlyphs">White matter</text>
<text x="1182.1" y="1200.9" font-size="30" fill="#111111" textLength="67.4" lengthAdjust="spacingAndGlyphs">Brain</text>
<text x="66.6" y="1229.3" font-size="30" fill="#111111" textLength="162.6" lengthAdjust="spacingAndGlyphs">Blood vessel</text>
<text x="312.5" y="1283" font-size="30" fill="#111111" textLength="147.9" lengthAdjust="spacingAndGlyphs">Falx cerebri</text>
<path d="M777.2,686.8 L707.5,815.1" stroke="#111" stroke-width="1.9" fill="none"/>
<path d="M467.5,762.5 L410.5,927.5" stroke="#111" stroke-width="1.9" fill="none"/>
<path d="M148.4,830.7 L379.4,924.3" stroke="#111" stroke-width="1.9" fill="none"/>
<path d="M877.7,770.9 L801.3,872.9" stroke="#111" stroke-width="1.9" fill="none"/>
<path d="M906,822.5 L824.9,913.6" stroke="#111" stroke-width="1.9" fill="none"/>
<path d="M961,874.7 L861.7,933" stroke="#111" stroke-width="1.9" fill="none"/>
<path d="M1001,921 L856.3,961.6" stroke="#111" stroke-width="1.9" fill="none"/>
<path d="M1001,980 L837,1005" stroke="#111" stroke-width="1.9" fill="none"/>
<path d="M1001,1049.5 L811,1082" stroke="#111" stroke-width="1.9" fill="none"/>
<path d="M944.8,1151 L832.3,1116.4" stroke="#111" stroke-width="1.9" fill="none"/>
<path d="M944.8,1208.8 L841.6,1197.6" stroke="#111" stroke-width="1.9" fill="none"/>
<path d="M254.7,1217.4 L346.8,1112" stroke="#111" stroke-width="1.9" fill="none"/>
<path d="M385.6,1250 L395.5,1191" stroke="#111" stroke-width="1.9" fill="none"/>
<path d="M1147,753 L1153.5,753 L1153.5,821 L1147,821" stroke="#111" stroke-width="1.9" fill="none"/>
<path d="M1150,1154 L1155.5,1154 L1155.5,1223 L1150,1223" stroke="#111" stroke-width="1.9" fill="none"/>
<path d="M857,926.7 L861.7,926.7 L861.7,940.6 L857,940.6" stroke="#111" stroke-width="1.9" fill="none"/>
<path d="M832,993.5 L836.7,993.5 L836.7,1016.5 L832,1016.5" stroke="#111" stroke-width="1.9" fill="none"/>
<text x="671.5" y="108.8" font-size="48.5" fill="#111" textLength="575" lengthAdjust="spacingAndGlyphs">The meninges of the brain</text>
<g fill="#fff" opacity="0.55">
<text x="335.2" y="139" font-size="44" font-weight="bold" textLength="15.5" lengthAdjust="spacingAndGlyphs">a</text>
<text x="935.2" y="139" font-size="44" font-weight="bold" textLength="15.5" lengthAdjust="spacingAndGlyphs">a</text>
<text x="185.2" y="269" font-size="44" font-weight="bold" textLength="15.5" lengthAdjust="spacingAndGlyphs">a</text>
<text x="485.2" y="269" font-size="44" font-weight="bold" textLength="15.5" lengthAdjust="spacingAndGlyphs">a</text>
<text x="785.2" y="269" font-size="44" font-weight="bold" textLength="15.5" lengthAdjust="spacingAndGlyphs">a</text>
<text x="1085.2" y="269" font-size="44" font-weight="bold" textLength="15.5" lengthAdjust="spacingAndGlyphs">a</text>
<text x="335.2" y="399" font-size="44" font-weight="bold" textLength="15.5" lengthAdjust="spacingAndGlyphs">a</text>
<text x="635.2" y="399" font-size="44" font-weight="bold" textLength="15.5" lengthAdjust="spacingAndGlyphs">a</text>
<text x="935.2" y="399" font-size="44" font-weight="bold" textLength="15.5" lengthAdjust="spacingAndGlyphs">a</text>
<text x="1235.2" y="399" font-size="44" font-weight="bold" textLength="15.5" lengthAdjust="spacingAndGlyphs">a</text>
<text x="485.2" y="528" font-size="44" font-weight="bold" textLength="15.5" lengthAdjust="spacingAndGlyphs">a</text>
<text x="785.2" y="528" font-size="44" font-weight="bold" textLength="15.5" lengthAdjust="spacingAndGlyphs">a</text>
<text x="1085.2" y="528" font-size="44" font-weight="bold" textLength="15.5" lengthAdjust="spacingAndGlyphs">a</text>
<text x="335.2" y="659" font-size="44" font-weight="bold" textLength="15.5" lengthAdjust="spacingAndGlyphs">a</text>
<text x="935.2" y="659" font-size="44" font-weight="bold" textLength="15.5" lengthAdjust="spacingAndGlyphs">a</text>
<text x="1235.2" y="659" font-size="44" font-weight="bold" textLength="15.5" lengthAdjust="spacingAndGlyphs">a</text>
<text x="185.2" y="789" font-size="44" font-weight="bold" textLength="15.5" lengthAdjust="spacingAndGlyphs">a</text>
<text x="485.2" y="789" font-size="44" font-weight="bold" textLength="15.5" lengthAdjust="spacingAndGlyphs">a</text>
<text x="785.2" y="789" font-size="44" font-weight="bold" textLength="15.5" lengthAdjust="spacingAndGlyphs">a</text>
<text x="1085.2" y="789" font-size="44" font-weight="bold" textLength="15.5" lengthAdjust="spacingAndGlyphs">a</text>
<text x="335.2" y="919" font-size="44" font-weight="bold" textLength="15.5" lengthAdjust="spacingAndGlyphs">a</text>
<text x="635.2" y="919" font-size="44" font-weight="bold" textLength="15.5" lengthAdjust="spacingAndGlyphs">a</text>
<text x="935.2" y="919" font-size="44" font-weight="bold" textLength="15.5" lengthAdjust="spacingAndGlyphs">a</text>
<text x="1235.2" y="919" font-size="44" font-weight="bold" textLength="15.5" lengthAdjust="spacingAndGlyphs">a</text>
<text x="185.2" y="1048" font-size="44" font-weight="bold" textLength="15.5" lengthAdjust="spacingAndGlyphs">a</text>
<text x="485.2" y="1048" font-size="44" font-weight="bold" textLength="15.5" lengthAdjust="spacingAndGlyphs">a</text>
<text x="785.2" y="1048" font-size="44" font-weight="bold" textLength="15.5" lengthAdjust="spacingAndGlyphs">a</text>
<text x="1085.2" y="1048" font-size="44" font-weight="bold" textLength="15.5" lengthAdjust="spacingAndGlyphs">a</text>
<text x="335.2" y="1179" font-size="44" font-weight="bold" textLength="15.5" lengthAdjust="spacingAndGlyphs">a</text>
<text x="635.2" y="1179" font-size="44" font-weight="bold" textLength="15.5" lengthAdjust="spacingAndGlyphs">a</text>
<text x="935.2" y="1179" font-size="44" font-weight="bold" textLength="15.5" lengthAdjust="spacingAndGlyphs">a</text>
<text x="1235.2" y="1179" font-size="44" font-weight="bold" textLength="15.5" lengthAdjust="spacingAndGlyphs">a</text>
<g transform="translate(146.8,532.8) scale(1.07)" fill="#fff" stroke="#fff"><g clip-path="url(#cpLogo)"><text x="0" y="0" font-size="62" font-weight="bold" textLength="101" lengthAdjust="spacingAndGlyphs" stroke-width="1.3" stroke-linejoin="round">alamy</text></g></g>
<g transform="translate(596,664) scale(1.07)" fill="#fff" stroke="#fff"><g clip-path="url(#cpLogo)"><text x="0" y="0" font-size="62" font-weight="bold" textLength="101" lengthAdjust="spacingAndGlyphs" stroke-width="1.3" stroke-linejoin="round">alamy</text></g></g>
<g transform="translate(-10,923.6) scale(1.07)" fill="#fff" stroke="#fff"><g clip-path="url(#cpLogo)"><text x="0" y="0" font-size="62" font-weight="bold" textLength="101" lengthAdjust="spacingAndGlyphs" stroke-width="1.3" stroke-linejoin="round">alamy</text></g></g>
</g>
<rect x="0" y="1300" width="1290" height="90" fill="#000"/>
<g transform="translate(50,1360) scale(1)" fill="#fff" stroke="#fff"><g clip-path="url(#cpLogo)"><text x="0" y="0" font-size="62" font-weight="bold" textLength="101" lengthAdjust="spacingAndGlyphs" stroke-width="1.3" stroke-linejoin="round">alamy</text></g></g>
<text x="1119.5" y="1337" font-size="14.5" fill="#fff" textLength="120.5" lengthAdjust="spacingAndGlyphs">Image ID: CT9EC8</text>
<text x="1105" y="1361" font-size="18" font-weight="bold" fill="#fff" textLength="136" lengthAdjust="spacingAndGlyphs">www.alamy.com</text>
</svg>
</body></html>
